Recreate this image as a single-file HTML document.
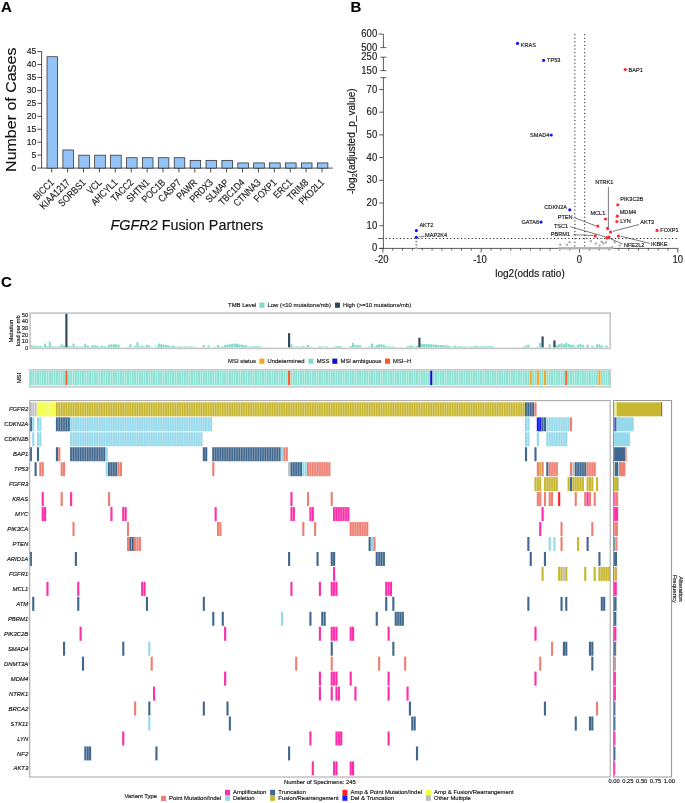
<!DOCTYPE html>
<html><head><meta charset="utf-8"><title>Figure</title>
<style>html,body{margin:0;padding:0;background:#fff}body{width:685px;height:803px;overflow:hidden;font-family:"Liberation Sans",sans-serif}svg{display:block;will-change:transform}text{stroke:#222;stroke-width:0.16px}</style></head>
<body>
<svg width="685" height="803" viewBox="0 0 685 803" font-family="Liberation Sans, sans-serif">
<rect width="685" height="803" fill="#fff"/>
<text x="1" y="12.3" font-size="15" font-weight="bold" fill="#000">A</text>
<text x="350.5" y="12.3" font-size="15" font-weight="bold" fill="#000">B</text>
<text x="1" y="287.3" font-size="15" font-weight="bold" fill="#000">C</text>
<g stroke="#222" stroke-width="0.8" fill="none">
<path d="M41.6 51.5V168.1H332.8"/>
<path d="M37.4 168.10H41.6"/>
<path d="M37.4 155.15H41.6"/>
<path d="M37.4 142.20H41.6"/>
<path d="M37.4 129.25H41.6"/>
<path d="M37.4 116.30H41.6"/>
<path d="M37.4 103.35H41.6"/>
<path d="M37.4 90.40H41.6"/>
<path d="M37.4 77.45H41.6"/>
<path d="M37.4 64.50H41.6"/>
<path d="M37.4 51.55H41.6"/>
<path d="M51.70 168.1v4.3"/>
<path d="M67.60 168.1v4.3"/>
<path d="M83.50 168.1v4.3"/>
<path d="M99.40 168.1v4.3"/>
<path d="M115.30 168.1v4.3"/>
<path d="M131.20 168.1v4.3"/>
<path d="M147.10 168.1v4.3"/>
<path d="M163.00 168.1v4.3"/>
<path d="M178.90 168.1v4.3"/>
<path d="M194.80 168.1v4.3"/>
<path d="M210.70 168.1v4.3"/>
<path d="M226.60 168.1v4.3"/>
<path d="M242.50 168.1v4.3"/>
<path d="M258.40 168.1v4.3"/>
<path d="M274.30 168.1v4.3"/>
<path d="M290.20 168.1v4.3"/>
<path d="M306.10 168.1v4.3"/>
<path d="M322.00 168.1v4.3"/>
</g>
<g stroke="#222" stroke-width="0.7" fill="#94C3F8">
<rect x="47.00" y="56.73" width="10.60" height="111.37"/>
<rect x="62.90" y="149.97" width="10.60" height="18.13"/>
<rect x="78.80" y="155.15" width="10.60" height="12.95"/>
<rect x="94.70" y="155.15" width="10.60" height="12.95"/>
<rect x="110.60" y="155.15" width="10.60" height="12.95"/>
<rect x="126.50" y="157.74" width="10.60" height="10.36"/>
<rect x="142.40" y="157.74" width="10.60" height="10.36"/>
<rect x="158.30" y="157.74" width="10.60" height="10.36"/>
<rect x="174.20" y="157.74" width="10.60" height="10.36"/>
<rect x="190.10" y="160.33" width="10.60" height="7.77"/>
<rect x="206.00" y="160.33" width="10.60" height="7.77"/>
<rect x="221.90" y="160.33" width="10.60" height="7.77"/>
<rect x="237.80" y="162.92" width="10.60" height="5.18"/>
<rect x="253.70" y="162.92" width="10.60" height="5.18"/>
<rect x="269.60" y="162.92" width="10.60" height="5.18"/>
<rect x="285.50" y="162.92" width="10.60" height="5.18"/>
<rect x="301.40" y="162.92" width="10.60" height="5.18"/>
<rect x="317.30" y="162.92" width="10.60" height="5.18"/>
</g>
<g font-size="9.8" fill="#222" text-anchor="end">
<text transform="translate(36.4,170.90) scale(0.88,1)">0</text>
<text transform="translate(36.4,157.95) scale(0.88,1)">5</text>
<text transform="translate(36.4,145.00) scale(0.88,1)">10</text>
<text transform="translate(36.4,132.05) scale(0.88,1)">15</text>
<text transform="translate(36.4,119.10) scale(0.88,1)">20</text>
<text transform="translate(36.4,106.15) scale(0.88,1)">25</text>
<text transform="translate(36.4,93.20) scale(0.88,1)">30</text>
<text transform="translate(36.4,80.25) scale(0.88,1)">35</text>
<text transform="translate(36.4,67.30) scale(0.88,1)">40</text>
<text transform="translate(36.4,54.35) scale(0.88,1)">45</text>
</g>
<g font-size="10" fill="#222" text-anchor="end">
<text transform="translate(54.60,183.20) rotate(-45) scale(0.84,1)">BICC1</text>
<text transform="translate(70.50,183.20) rotate(-45) scale(0.84,1)">KIAA1217</text>
<text transform="translate(86.40,183.20) rotate(-45) scale(0.84,1)">SORBS1</text>
<text transform="translate(102.30,183.20) rotate(-45) scale(0.84,1)">VCL</text>
<text transform="translate(118.20,183.20) rotate(-45) scale(0.84,1)">AHCYL1</text>
<text transform="translate(134.10,183.20) rotate(-45) scale(0.84,1)">TACC2</text>
<text transform="translate(150.00,183.20) rotate(-45) scale(0.84,1)">SHTN1</text>
<text transform="translate(165.90,183.20) rotate(-45) scale(0.84,1)">POC1B</text>
<text transform="translate(181.80,183.20) rotate(-45) scale(0.84,1)">CASP7</text>
<text transform="translate(197.70,183.20) rotate(-45) scale(0.84,1)">PAWR</text>
<text transform="translate(213.60,183.20) rotate(-45) scale(0.84,1)">PRDX3</text>
<text transform="translate(229.50,183.20) rotate(-45) scale(0.84,1)">SLMAP</text>
<text transform="translate(245.40,183.20) rotate(-45) scale(0.84,1)">TBC1D4</text>
<text transform="translate(261.30,183.20) rotate(-45) scale(0.84,1)">CTNNA3</text>
<text transform="translate(277.20,183.20) rotate(-45) scale(0.84,1)">FOXP1</text>
<text transform="translate(293.10,183.20) rotate(-45) scale(0.84,1)">ERC1</text>
<text transform="translate(309.00,183.20) rotate(-45) scale(0.84,1)">TRIM8</text>
<text transform="translate(324.90,183.20) rotate(-45) scale(0.84,1)">PKD2L1</text>
</g>
<text x="110.5" y="230.3" font-size="15.3" fill="#111" textLength="152.7" lengthAdjust="spacingAndGlyphs"><tspan font-style="italic">FGFR2</tspan> Fusion Partners</text>
<text transform="translate(16.3,171.9) rotate(-90)" font-size="15.5" fill="#111" textLength="124.4" lengthAdjust="spacingAndGlyphs">Number of Cases</text>
<g stroke="#333" stroke-width="0.8" fill="none">
<path d="M378.4 34.1H383.4V47.6M380.4 47.6H386.4"/>
<path d="M380.4 57.2H386.4M383.4 57.2V70.6M380.4 70.6H386.4"/>
<path d="M380.4 77.7H386.4M383.4 77.7V248.4"/>
<path d="M379.2 248.40H383.4"/>
<path d="M379.2 225.70H383.4"/>
<path d="M379.2 203.00H383.4"/>
<path d="M379.2 180.30H383.4"/>
<path d="M379.2 157.60H383.4"/>
<path d="M379.2 134.90H383.4"/>
<path d="M379.2 112.20H383.4"/>
<path d="M379.2 89.50H383.4"/>
<path d="M379.2 248.4H678.2"/>
<path d="M382.90 248.4v4.2"/>
<path d="M392.73 248.4v2.1"/>
<path d="M402.56 248.4v2.1"/>
<path d="M412.39 248.4v2.1"/>
<path d="M422.22 248.4v2.1"/>
<path d="M432.05 248.4v2.1"/>
<path d="M441.88 248.4v2.1"/>
<path d="M451.71 248.4v2.1"/>
<path d="M461.54 248.4v2.1"/>
<path d="M471.37 248.4v2.1"/>
<path d="M481.20 248.4v4.2"/>
<path d="M491.03 248.4v2.1"/>
<path d="M500.86 248.4v2.1"/>
<path d="M510.69 248.4v2.1"/>
<path d="M520.52 248.4v2.1"/>
<path d="M530.35 248.4v2.1"/>
<path d="M540.18 248.4v2.1"/>
<path d="M550.01 248.4v2.1"/>
<path d="M559.84 248.4v2.1"/>
<path d="M569.67 248.4v2.1"/>
<path d="M579.50 248.4v4.2"/>
<path d="M589.33 248.4v2.1"/>
<path d="M599.16 248.4v2.1"/>
<path d="M608.99 248.4v2.1"/>
<path d="M618.82 248.4v2.1"/>
<path d="M628.65 248.4v2.1"/>
<path d="M638.48 248.4v2.1"/>
<path d="M648.31 248.4v2.1"/>
<path d="M658.14 248.4v2.1"/>
<path d="M667.97 248.4v2.1"/>
<path d="M677.80 248.4v4.2"/>
</g>
<g stroke="#222" stroke-width="1.0" stroke-dasharray="1.15 2.43" fill="none">
<path d="M574.9 34.1V248.4"/>
<path d="M584.7 34.1V248.4"/>
<path d="M385.7 238.5H678.2"/>
</g>
<path d="M378 238.5H383.4" stroke="#333" stroke-width="0.8"/>
<g font-size="10" fill="#222" text-anchor="end">
<text transform="translate(377.2,37.1) scale(0.95,1)">600</text>
<text transform="translate(377.2,50.6) scale(0.95,1)">500</text>
<text transform="translate(377.2,60.2) scale(0.95,1)">250</text>
<text transform="translate(377.2,73.6) scale(0.95,1)">150</text>
<text transform="translate(377.2,251.40) scale(0.95,1)">0</text>
<text transform="translate(377.2,228.70) scale(0.95,1)">10</text>
<text transform="translate(377.2,206.00) scale(0.95,1)">20</text>
<text transform="translate(377.2,183.30) scale(0.95,1)">30</text>
<text transform="translate(377.2,160.60) scale(0.95,1)">40</text>
<text transform="translate(377.2,137.90) scale(0.95,1)">50</text>
<text transform="translate(377.2,115.20) scale(0.95,1)">60</text>
<text transform="translate(377.2,92.50) scale(0.95,1)">70</text>
</g>
<g font-size="10" fill="#222" text-anchor="middle">
<text transform="translate(381.7,262.6) scale(0.95,1)">-20</text>
<text transform="translate(480.0,262.6) scale(0.95,1)">-10</text>
<text transform="translate(579.5,262.6) scale(0.95,1)">0</text>
<text transform="translate(677.8,262.6) scale(0.95,1)">10</text>
</g>
<text x="530" y="276.6" font-size="10" fill="#111" stroke="#111" stroke-width="0.2" text-anchor="middle">log2(odds ratio)</text>
<text transform="translate(354.8,194) rotate(-90)" font-size="10" fill="#111" stroke="#111" stroke-width="0.2">-log<tspan font-size="7" dy="2">2</tspan><tspan dy="-2">(adjusted_p_value)</tspan></text>
<g fill="#B0B0B0">
<circle cx="560.2" cy="244.7" r="1.2"/>
<circle cx="567.0" cy="244.7" r="1.2"/>
<circle cx="569.5" cy="242.2" r="1.2"/>
<circle cx="590.8" cy="241.0" r="1.2"/>
<circle cx="595.9" cy="243.5" r="1.2"/>
<circle cx="599.6" cy="245.5" r="1.2"/>
<circle cx="602.1" cy="242.2" r="1.2"/>
<circle cx="605.9" cy="242.2" r="1.2"/>
<circle cx="614.7" cy="242.2" r="1.2"/>
<circle cx="619.7" cy="245.5" r="1.2"/>
<circle cx="612.2" cy="247.2" r="1.2"/>
<circle cx="416.4" cy="241.6" r="1.2"/>
<circle cx="416.4" cy="245.0" r="1.2"/>
<circle cx="416.4" cy="248.3" r="1.2"/>
<circle cx="601.5" cy="241.6" r="1.2"/>
<circle cx="603.5" cy="243.6" r="1.2"/>
<circle cx="559.5" cy="248.2" r="1.2"/>
<circle cx="561.2" cy="248.2" r="1.2"/>
<circle cx="562.9" cy="248.2" r="1.2"/>
<circle cx="564.6" cy="248.2" r="1.2"/>
<circle cx="566.3" cy="248.2" r="1.2"/>
<circle cx="568.0" cy="248.2" r="1.2"/>
<circle cx="569.7" cy="248.2" r="1.2"/>
<circle cx="571.4" cy="248.2" r="1.2"/>
<circle cx="573.1" cy="248.2" r="1.2"/>
<circle cx="574.8" cy="248.2" r="1.2"/>
<circle cx="576.5" cy="248.2" r="1.2"/>
<circle cx="578.2" cy="248.2" r="1.2"/>
<circle cx="579.9" cy="248.2" r="1.2"/>
<circle cx="581.6" cy="248.2" r="1.2"/>
<circle cx="583.3" cy="248.2" r="1.2"/>
<circle cx="585.0" cy="248.2" r="1.2"/>
<circle cx="586.7" cy="248.2" r="1.2"/>
<circle cx="588.4" cy="248.2" r="1.2"/>
<circle cx="590.1" cy="248.2" r="1.2"/>
<circle cx="591.8" cy="248.2" r="1.2"/>
<circle cx="593.5" cy="248.2" r="1.2"/>
<circle cx="595.2" cy="248.2" r="1.2"/>
<circle cx="596.9" cy="248.2" r="1.2"/>
<circle cx="598.6" cy="248.2" r="1.2"/>
<circle cx="600.3" cy="248.2" r="1.2"/>
<circle cx="602.0" cy="248.2" r="1.2"/>
<circle cx="603.7" cy="248.2" r="1.2"/>
<circle cx="605.4" cy="248.2" r="1.2"/>
<circle cx="607.1" cy="248.2" r="1.2"/>
<circle cx="608.8" cy="248.2" r="1.2"/>
<circle cx="610.5" cy="248.2" r="1.2"/>
<circle cx="612.2" cy="248.2" r="1.2"/>
</g>
<g stroke="#222" stroke-width="0.6" fill="none">
<path d="M608.4 186.9V227.1"/>
<path d="M574.1 217.5L595.9 225.9"/>
<path d="M570.1 226.7L607.8 237.5L622.9 244.2"/>
<path d="M573.3 234.7L593.4 235.5"/>
<path d="M638.9 224.5L612.6 231.4"/>
<path d="M649.8 243.4L621 236.2"/>
<path d="M418.8 237L424.4 236.5"/>
</g>
<g fill="#1414FF">
<circle cx="517.5" cy="43.4" r="1.6"/>
<circle cx="543.6" cy="60.3" r="1.6"/>
<circle cx="551.2" cy="135.0" r="1.6"/>
<circle cx="569.8" cy="209.8" r="1.6"/>
<circle cx="541.0" cy="222.1" r="1.6"/>
<circle cx="416.4" cy="230.6" r="1.6"/>
<circle cx="416.4" cy="237.3" r="1.6"/>
</g><g fill="#FF2B2B">
<circle cx="625.2" cy="69.5" r="1.6"/>
<circle cx="617.8" cy="204.8" r="1.6"/>
<circle cx="617.3" cy="216.2" r="1.6"/>
<circle cx="605.5" cy="219.0" r="1.6"/>
<circle cx="616.9" cy="221.5" r="1.6"/>
<circle cx="597.8" cy="226.1" r="1.6"/>
<circle cx="607.6" cy="228.4" r="1.6"/>
<circle cx="610.5" cy="232.1" r="1.6"/>
<circle cx="657.0" cy="230.4" r="1.6"/>
<circle cx="595.3" cy="235.9" r="1.6"/>
<circle cx="618.5" cy="236.0" r="1.6"/>
<circle cx="606.9" cy="237.9" r="1.6"/>
<circle cx="608.9" cy="237.1" r="1.6"/>
</g>
<g font-size="5.6" fill="#222">
<text x="520.7" y="46.7" text-anchor="start">KRAS</text>
<text x="547.0" y="62.3" text-anchor="start">TP53</text>
<text x="628.5" y="71.5" text-anchor="start">BAP1</text>
<text x="549.3" y="137.0" text-anchor="end">SMAD4</text>
<text x="567.0" y="209.0" text-anchor="end">CDKN2A</text>
<text x="539.0" y="224.1" text-anchor="end">GATA6</text>
<text x="419.4" y="226.6" text-anchor="start">AKT2</text>
<text x="425.1" y="237.1" text-anchor="start">MAP2K4</text>
<text x="604.3" y="183.9" text-anchor="middle">NTRK1</text>
<text x="620.3" y="201.0" text-anchor="start">PIK3C2B</text>
<text x="619.7" y="214.3" text-anchor="start">MDM4</text>
<text x="605.3" y="215.3" text-anchor="end">MCL1</text>
<text x="620.3" y="223.4" text-anchor="start">LYN</text>
<text x="572.6" y="218.7" text-anchor="end">PTEN</text>
<text x="640.2" y="224.4" text-anchor="start">AKT3</text>
<text x="568.2" y="227.5" text-anchor="end">TSC1</text>
<text x="660.3" y="232.2" text-anchor="start">FOXP1</text>
<text x="570.1" y="236.3" text-anchor="end">PBRM1</text>
<text x="651.1" y="245.7" text-anchor="start">IKBKE</text>
<text x="623.9" y="247.0" text-anchor="start">NFE2L2</text>
</g>
<g fill="#7FDCCB">
<rect x="29.85" y="344.94" width="2.07" height="2.56"/>
<rect x="32.22" y="345.72" width="2.07" height="1.78"/>
<rect x="34.59" y="345.59" width="2.07" height="1.91"/>
<rect x="36.96" y="346.31" width="2.07" height="1.19"/>
<rect x="39.33" y="345.72" width="2.07" height="1.78"/>
<rect x="41.70" y="346.77" width="2.07" height="0.73"/>
<rect x="44.06" y="343.63" width="2.07" height="3.87"/>
<rect x="46.43" y="346.25" width="2.07" height="1.25"/>
<rect x="48.80" y="341.67" width="2.07" height="5.83"/>
<rect x="51.17" y="346.31" width="2.07" height="1.19"/>
<rect x="53.54" y="346.57" width="2.07" height="0.93"/>
<rect x="55.91" y="346.77" width="2.07" height="0.73"/>
<rect x="58.28" y="346.25" width="2.07" height="1.25"/>
<rect x="60.65" y="344.28" width="2.07" height="3.22"/>
<rect x="63.02" y="345.59" width="2.07" height="1.91"/>
<rect x="67.75" y="346.25" width="2.07" height="1.25"/>
<rect x="70.12" y="346.38" width="2.07" height="1.12"/>
<rect x="72.49" y="343.63" width="2.07" height="3.87"/>
<rect x="74.86" y="346.57" width="2.07" height="0.93"/>
<rect x="77.23" y="346.64" width="2.07" height="0.86"/>
<rect x="79.60" y="346.77" width="2.07" height="0.73"/>
<rect x="81.97" y="346.70" width="2.07" height="0.80"/>
<rect x="84.34" y="343.63" width="2.07" height="3.87"/>
<rect x="86.71" y="345.59" width="2.07" height="1.91"/>
<rect x="89.08" y="346.77" width="2.07" height="0.73"/>
<rect x="91.44" y="344.94" width="2.07" height="2.56"/>
<rect x="93.81" y="345.26" width="2.07" height="2.23"/>
<rect x="96.18" y="345.59" width="2.07" height="1.91"/>
<rect x="98.55" y="346.64" width="2.07" height="0.86"/>
<rect x="100.92" y="345.72" width="2.07" height="1.78"/>
<rect x="103.29" y="346.38" width="2.07" height="1.12"/>
<rect x="105.66" y="346.64" width="2.07" height="0.86"/>
<rect x="108.03" y="344.61" width="2.07" height="2.89"/>
<rect x="110.40" y="344.28" width="2.07" height="3.22"/>
<rect x="112.77" y="344.28" width="2.07" height="3.22"/>
<rect x="115.13" y="344.28" width="2.07" height="3.22"/>
<rect x="117.50" y="344.61" width="2.07" height="2.89"/>
<rect x="126.98" y="346.77" width="2.07" height="0.73"/>
<rect x="129.35" y="344.28" width="2.07" height="3.22"/>
<rect x="134.09" y="346.12" width="2.07" height="1.38"/>
<rect x="136.46" y="342.32" width="2.07" height="5.18"/>
<rect x="138.82" y="346.51" width="2.07" height="0.99"/>
<rect x="141.19" y="345.59" width="2.07" height="1.91"/>
<rect x="143.56" y="346.64" width="2.07" height="0.86"/>
<rect x="145.93" y="344.94" width="2.07" height="2.56"/>
<rect x="148.30" y="345.59" width="2.07" height="1.91"/>
<rect x="155.41" y="346.51" width="2.07" height="0.99"/>
<rect x="157.78" y="343.63" width="2.07" height="3.87"/>
<rect x="160.15" y="344.28" width="2.07" height="3.22"/>
<rect x="162.51" y="344.61" width="2.07" height="2.89"/>
<rect x="164.88" y="344.94" width="2.07" height="2.56"/>
<rect x="167.25" y="345.26" width="2.07" height="2.23"/>
<rect x="169.62" y="346.12" width="2.07" height="1.38"/>
<rect x="171.99" y="345.72" width="2.07" height="1.78"/>
<rect x="174.36" y="346.51" width="2.07" height="0.99"/>
<rect x="176.73" y="346.64" width="2.07" height="0.86"/>
<rect x="179.10" y="346.38" width="2.07" height="1.12"/>
<rect x="181.47" y="346.77" width="2.07" height="0.73"/>
<rect x="183.84" y="346.38" width="2.07" height="1.12"/>
<rect x="186.20" y="346.70" width="2.07" height="0.80"/>
<rect x="188.57" y="346.38" width="2.07" height="1.12"/>
<rect x="190.94" y="346.51" width="2.07" height="0.99"/>
<rect x="193.31" y="346.70" width="2.07" height="0.80"/>
<rect x="202.79" y="344.94" width="2.07" height="2.56"/>
<rect x="207.53" y="345.59" width="2.07" height="1.91"/>
<rect x="214.63" y="346.70" width="2.07" height="0.80"/>
<rect x="217.00" y="344.94" width="2.07" height="2.56"/>
<rect x="219.37" y="346.70" width="2.07" height="0.80"/>
<rect x="221.74" y="346.38" width="2.07" height="1.12"/>
<rect x="224.11" y="344.94" width="2.07" height="2.56"/>
<rect x="226.48" y="344.61" width="2.07" height="2.89"/>
<rect x="228.85" y="344.28" width="2.07" height="3.22"/>
<rect x="231.22" y="343.63" width="2.07" height="3.87"/>
<rect x="233.58" y="343.63" width="2.07" height="3.87"/>
<rect x="235.95" y="343.63" width="2.07" height="3.87"/>
<rect x="238.32" y="344.28" width="2.07" height="3.22"/>
<rect x="240.69" y="344.61" width="2.07" height="2.89"/>
<rect x="243.06" y="345.26" width="2.07" height="2.23"/>
<rect x="245.43" y="345.59" width="2.07" height="1.91"/>
<rect x="247.80" y="346.70" width="2.07" height="0.80"/>
<rect x="250.17" y="346.38" width="2.07" height="1.12"/>
<rect x="252.54" y="346.25" width="2.07" height="1.25"/>
<rect x="254.91" y="346.12" width="2.07" height="1.38"/>
<rect x="257.27" y="346.38" width="2.07" height="1.12"/>
<rect x="259.64" y="346.64" width="2.07" height="0.86"/>
<rect x="290.44" y="344.28" width="2.07" height="3.22"/>
<rect x="292.81" y="346.70" width="2.07" height="0.80"/>
<rect x="295.18" y="346.38" width="2.07" height="1.12"/>
<rect x="297.55" y="346.70" width="2.07" height="0.80"/>
<rect x="299.92" y="346.70" width="2.07" height="0.80"/>
<rect x="302.28" y="346.12" width="2.07" height="1.38"/>
<rect x="304.65" y="346.64" width="2.07" height="0.86"/>
<rect x="307.02" y="344.94" width="2.07" height="2.56"/>
<rect x="309.39" y="346.77" width="2.07" height="0.73"/>
<rect x="318.87" y="346.25" width="2.07" height="1.25"/>
<rect x="321.24" y="346.70" width="2.07" height="0.80"/>
<rect x="323.61" y="346.77" width="2.07" height="0.73"/>
<rect x="325.97" y="346.57" width="2.07" height="0.93"/>
<rect x="333.08" y="346.64" width="2.07" height="0.86"/>
<rect x="335.45" y="346.25" width="2.07" height="1.25"/>
<rect x="337.82" y="346.12" width="2.07" height="1.38"/>
<rect x="340.19" y="346.31" width="2.07" height="1.19"/>
<rect x="349.67" y="345.92" width="2.07" height="1.58"/>
<rect x="352.03" y="342.98" width="2.07" height="4.52"/>
<rect x="354.40" y="344.94" width="2.07" height="2.56"/>
<rect x="356.77" y="345.26" width="2.07" height="2.23"/>
<rect x="359.14" y="345.26" width="2.07" height="2.23"/>
<rect x="368.62" y="346.57" width="2.07" height="0.93"/>
<rect x="370.99" y="343.63" width="2.07" height="3.87"/>
<rect x="373.36" y="346.64" width="2.07" height="0.86"/>
<rect x="375.72" y="344.94" width="2.07" height="2.56"/>
<rect x="378.09" y="344.28" width="2.07" height="3.22"/>
<rect x="380.46" y="344.28" width="2.07" height="3.22"/>
<rect x="382.83" y="344.61" width="2.07" height="2.89"/>
<rect x="385.20" y="346.31" width="2.07" height="1.19"/>
<rect x="387.57" y="346.25" width="2.07" height="1.25"/>
<rect x="389.94" y="346.77" width="2.07" height="0.73"/>
<rect x="392.31" y="346.31" width="2.07" height="1.19"/>
<rect x="406.52" y="346.25" width="2.07" height="1.25"/>
<rect x="408.89" y="345.59" width="2.07" height="1.91"/>
<rect x="411.26" y="345.59" width="2.07" height="1.91"/>
<rect x="413.63" y="346.77" width="2.07" height="0.73"/>
<rect x="416.00" y="346.12" width="2.07" height="1.38"/>
<rect x="420.74" y="343.63" width="2.07" height="3.87"/>
<rect x="423.10" y="343.96" width="2.07" height="3.54"/>
<rect x="425.47" y="343.96" width="2.07" height="3.54"/>
<rect x="427.84" y="344.28" width="2.07" height="3.22"/>
<rect x="430.21" y="344.28" width="2.07" height="3.22"/>
<rect x="432.58" y="344.61" width="2.07" height="2.89"/>
<rect x="434.95" y="344.61" width="2.07" height="2.89"/>
<rect x="437.32" y="344.94" width="2.07" height="2.56"/>
<rect x="439.69" y="344.94" width="2.07" height="2.56"/>
<rect x="442.06" y="345.26" width="2.07" height="2.23"/>
<rect x="444.43" y="345.26" width="2.07" height="2.23"/>
<rect x="446.79" y="345.59" width="2.07" height="1.91"/>
<rect x="449.16" y="346.38" width="2.07" height="1.12"/>
<rect x="451.53" y="346.64" width="2.07" height="0.86"/>
<rect x="453.90" y="345.72" width="2.07" height="1.78"/>
<rect x="456.27" y="346.51" width="2.07" height="0.99"/>
<rect x="458.64" y="346.12" width="2.07" height="1.38"/>
<rect x="461.01" y="346.70" width="2.07" height="0.80"/>
<rect x="463.38" y="346.51" width="2.07" height="0.99"/>
<rect x="465.75" y="346.70" width="2.07" height="0.80"/>
<rect x="468.12" y="346.77" width="2.07" height="0.73"/>
<rect x="470.48" y="346.31" width="2.07" height="1.19"/>
<rect x="472.85" y="346.51" width="2.07" height="0.99"/>
<rect x="475.22" y="345.72" width="2.07" height="1.78"/>
<rect x="477.59" y="346.25" width="2.07" height="1.25"/>
<rect x="479.96" y="346.38" width="2.07" height="1.12"/>
<rect x="482.33" y="346.25" width="2.07" height="1.25"/>
<rect x="484.70" y="346.12" width="2.07" height="1.38"/>
<rect x="487.07" y="346.31" width="2.07" height="1.19"/>
<rect x="489.44" y="345.72" width="2.07" height="1.78"/>
<rect x="491.81" y="346.57" width="2.07" height="0.93"/>
<rect x="522.60" y="346.64" width="2.07" height="0.86"/>
<rect x="524.97" y="345.59" width="2.07" height="1.91"/>
<rect x="527.34" y="344.61" width="2.07" height="2.89"/>
<rect x="536.82" y="346.77" width="2.07" height="0.73"/>
<rect x="539.19" y="342.98" width="2.07" height="4.52"/>
<rect x="548.66" y="344.28" width="2.07" height="3.22"/>
<rect x="555.77" y="344.94" width="2.07" height="2.56"/>
<rect x="558.14" y="344.28" width="2.07" height="3.22"/>
<rect x="560.51" y="343.30" width="2.07" height="4.20"/>
<rect x="562.88" y="344.28" width="2.07" height="3.22"/>
<rect x="565.24" y="342.65" width="2.07" height="4.85"/>
<rect x="567.61" y="343.96" width="2.07" height="3.54"/>
<rect x="569.98" y="344.94" width="2.07" height="2.56"/>
<rect x="572.35" y="344.61" width="2.07" height="2.89"/>
<rect x="574.72" y="346.51" width="2.07" height="0.99"/>
<rect x="577.09" y="344.61" width="2.07" height="2.89"/>
<rect x="579.46" y="343.63" width="2.07" height="3.87"/>
<rect x="581.83" y="344.94" width="2.07" height="2.56"/>
<rect x="586.57" y="344.61" width="2.07" height="2.89"/>
<rect x="591.30" y="345.59" width="2.07" height="1.91"/>
<rect x="596.04" y="344.28" width="2.07" height="3.22"/>
<rect x="598.41" y="344.28" width="2.07" height="3.22"/>
<rect x="600.78" y="345.59" width="2.07" height="1.91"/>
<rect x="605.52" y="345.59" width="2.07" height="1.91"/>
</g><g fill="#33475E">
<rect x="65.33" y="312.89" width="2.17" height="34.61"/>
<rect x="288.02" y="333.17" width="2.17" height="14.33"/>
<rect x="418.32" y="337.74" width="2.17" height="9.76"/>
<rect x="541.50" y="336.44" width="2.17" height="11.06"/>
<rect x="553.35" y="340.36" width="2.17" height="7.14"/>
</g>
<rect x="30.1" y="313.1" width="580.1" height="35.3" fill="none" stroke="#C6C6C6" stroke-width="1.6"/>
<g font-size="5.8" fill="#222" text-anchor="end">
<text x="28.3" y="349.70">0</text>
<text x="28.3" y="343.10">10</text>
<text x="28.3" y="336.50">20</text>
<text x="28.3" y="329.90">30</text>
<text x="28.3" y="323.30">40</text>
<text x="28.3" y="316.70">50</text>
</g>
<text transform="translate(13.2,331.1) rotate(-90)" font-size="5.9" fill="#111" text-anchor="middle">Mutation</text>
<text transform="translate(19.9,330.8) rotate(-90)" font-size="5.9" fill="#111" text-anchor="middle">load per mb</text>
<g font-size="5.9" fill="#111">
<text x="228.1" y="307.0">TMB Level</text>
<rect x="259.4" y="302.6" width="5" height="5.2" fill="#7FDCCB"/>
<text x="267.5" y="307.0">Low (&lt;10 mutations/mb)</text>
<rect x="335" y="302.6" width="5" height="5.2" fill="#33475E"/>
<text x="343" y="307.0">High (&gt;=10 mutations/mb)</text>
<text x="228.1" y="363.1">MSI status</text>
<rect x="259.4" y="358.6" width="5" height="5.2" fill="#F5A623"/>
<text x="267.5" y="363.1">Undetermined</text>
<rect x="308.4" y="358.6" width="5" height="5.2" fill="#7FDCCB"/>
<text x="316.7" y="363.1">MSS</text>
<rect x="332.3" y="358.6" width="5" height="5.2" fill="#1010CC"/>
<text x="340.5" y="363.1">MSI ambiguous</text>
<rect x="385" y="358.6" width="5" height="5.2" fill="#FF5722"/>
<text x="393" y="363.1">MSI&#8722;H</text>
</g>
<rect x="30.0" y="369.9" width="580.3" height="16.9" fill="#fff" stroke="#C9C9C9" stroke-width="1.6"/>
<g fill="#8DE2D3">
<rect x="29.85" y="370.7" width="2.07" height="14.5"/>
<rect x="32.22" y="370.7" width="2.07" height="14.5"/>
<rect x="34.59" y="370.7" width="2.07" height="14.5"/>
<rect x="36.96" y="370.7" width="2.07" height="14.5"/>
<rect x="39.33" y="370.7" width="2.07" height="14.5"/>
<rect x="41.70" y="370.7" width="2.07" height="14.5"/>
<rect x="44.06" y="370.7" width="2.07" height="14.5"/>
<rect x="46.43" y="370.7" width="2.07" height="14.5"/>
<rect x="48.80" y="370.7" width="2.07" height="14.5"/>
<rect x="51.17" y="370.7" width="2.07" height="14.5"/>
<rect x="53.54" y="370.7" width="2.07" height="14.5"/>
<rect x="55.91" y="370.7" width="2.07" height="14.5"/>
<rect x="58.28" y="370.7" width="2.07" height="14.5"/>
<rect x="60.65" y="370.7" width="2.07" height="14.5"/>
<rect x="63.02" y="370.7" width="2.07" height="14.5"/>
<rect x="67.75" y="370.7" width="2.07" height="14.5"/>
<rect x="70.12" y="370.7" width="2.07" height="14.5"/>
<rect x="72.49" y="370.7" width="2.07" height="14.5"/>
<rect x="74.86" y="370.7" width="2.07" height="14.5"/>
<rect x="77.23" y="370.7" width="2.07" height="14.5"/>
<rect x="79.60" y="370.7" width="2.07" height="14.5"/>
<rect x="81.97" y="370.7" width="2.07" height="14.5"/>
<rect x="84.34" y="370.7" width="2.07" height="14.5"/>
<rect x="86.71" y="370.7" width="2.07" height="14.5"/>
<rect x="89.08" y="370.7" width="2.07" height="14.5"/>
<rect x="91.44" y="370.7" width="2.07" height="14.5"/>
<rect x="93.81" y="370.7" width="2.07" height="14.5"/>
<rect x="96.18" y="370.7" width="2.07" height="14.5"/>
<rect x="98.55" y="370.7" width="2.07" height="14.5"/>
<rect x="100.92" y="370.7" width="2.07" height="14.5"/>
<rect x="103.29" y="370.7" width="2.07" height="14.5"/>
<rect x="105.66" y="370.7" width="2.07" height="14.5"/>
<rect x="108.03" y="370.7" width="2.07" height="14.5"/>
<rect x="110.40" y="370.7" width="2.07" height="14.5"/>
<rect x="112.77" y="370.7" width="2.07" height="14.5"/>
<rect x="115.13" y="370.7" width="2.07" height="14.5"/>
<rect x="117.50" y="370.7" width="2.07" height="14.5"/>
<rect x="119.87" y="370.7" width="2.07" height="14.5"/>
<rect x="122.24" y="370.7" width="2.07" height="14.5"/>
<rect x="124.61" y="370.7" width="2.07" height="14.5"/>
<rect x="126.98" y="370.7" width="2.07" height="14.5"/>
<rect x="129.35" y="370.7" width="2.07" height="14.5"/>
<rect x="131.72" y="370.7" width="2.07" height="14.5"/>
<rect x="134.09" y="370.7" width="2.07" height="14.5"/>
<rect x="136.46" y="370.7" width="2.07" height="14.5"/>
<rect x="138.82" y="370.7" width="2.07" height="14.5"/>
<rect x="141.19" y="370.7" width="2.07" height="14.5"/>
<rect x="143.56" y="370.7" width="2.07" height="14.5"/>
<rect x="145.93" y="370.7" width="2.07" height="14.5"/>
<rect x="148.30" y="370.7" width="2.07" height="14.5"/>
<rect x="150.67" y="370.7" width="2.07" height="14.5"/>
<rect x="153.04" y="370.7" width="2.07" height="14.5"/>
<rect x="155.41" y="370.7" width="2.07" height="14.5"/>
<rect x="157.78" y="370.7" width="2.07" height="14.5"/>
<rect x="160.15" y="370.7" width="2.07" height="14.5"/>
<rect x="162.51" y="370.7" width="2.07" height="14.5"/>
<rect x="164.88" y="370.7" width="2.07" height="14.5"/>
<rect x="167.25" y="370.7" width="2.07" height="14.5"/>
<rect x="169.62" y="370.7" width="2.07" height="14.5"/>
<rect x="171.99" y="370.7" width="2.07" height="14.5"/>
<rect x="174.36" y="370.7" width="2.07" height="14.5"/>
<rect x="176.73" y="370.7" width="2.07" height="14.5"/>
<rect x="179.10" y="370.7" width="2.07" height="14.5"/>
<rect x="181.47" y="370.7" width="2.07" height="14.5"/>
<rect x="183.84" y="370.7" width="2.07" height="14.5"/>
<rect x="186.20" y="370.7" width="2.07" height="14.5"/>
<rect x="188.57" y="370.7" width="2.07" height="14.5"/>
<rect x="190.94" y="370.7" width="2.07" height="14.5"/>
<rect x="193.31" y="370.7" width="2.07" height="14.5"/>
<rect x="195.68" y="370.7" width="2.07" height="14.5"/>
<rect x="198.05" y="370.7" width="2.07" height="14.5"/>
<rect x="200.42" y="370.7" width="2.07" height="14.5"/>
<rect x="202.79" y="370.7" width="2.07" height="14.5"/>
<rect x="205.16" y="370.7" width="2.07" height="14.5"/>
<rect x="207.53" y="370.7" width="2.07" height="14.5"/>
<rect x="209.89" y="370.7" width="2.07" height="14.5"/>
<rect x="212.26" y="370.7" width="2.07" height="14.5"/>
<rect x="214.63" y="370.7" width="2.07" height="14.5"/>
<rect x="217.00" y="370.7" width="2.07" height="14.5"/>
<rect x="219.37" y="370.7" width="2.07" height="14.5"/>
<rect x="221.74" y="370.7" width="2.07" height="14.5"/>
<rect x="224.11" y="370.7" width="2.07" height="14.5"/>
<rect x="226.48" y="370.7" width="2.07" height="14.5"/>
<rect x="228.85" y="370.7" width="2.07" height="14.5"/>
<rect x="231.22" y="370.7" width="2.07" height="14.5"/>
<rect x="233.58" y="370.7" width="2.07" height="14.5"/>
<rect x="235.95" y="370.7" width="2.07" height="14.5"/>
<rect x="238.32" y="370.7" width="2.07" height="14.5"/>
<rect x="240.69" y="370.7" width="2.07" height="14.5"/>
<rect x="243.06" y="370.7" width="2.07" height="14.5"/>
<rect x="245.43" y="370.7" width="2.07" height="14.5"/>
<rect x="247.80" y="370.7" width="2.07" height="14.5"/>
<rect x="250.17" y="370.7" width="2.07" height="14.5"/>
<rect x="252.54" y="370.7" width="2.07" height="14.5"/>
<rect x="254.91" y="370.7" width="2.07" height="14.5"/>
<rect x="257.27" y="370.7" width="2.07" height="14.5"/>
<rect x="259.64" y="370.7" width="2.07" height="14.5"/>
<rect x="262.01" y="370.7" width="2.07" height="14.5"/>
<rect x="264.38" y="370.7" width="2.07" height="14.5"/>
<rect x="266.75" y="370.7" width="2.07" height="14.5"/>
<rect x="269.12" y="370.7" width="2.07" height="14.5"/>
<rect x="271.49" y="370.7" width="2.07" height="14.5"/>
<rect x="273.86" y="370.7" width="2.07" height="14.5"/>
<rect x="276.23" y="370.7" width="2.07" height="14.5"/>
<rect x="278.60" y="370.7" width="2.07" height="14.5"/>
<rect x="280.96" y="370.7" width="2.07" height="14.5"/>
<rect x="283.33" y="370.7" width="2.07" height="14.5"/>
<rect x="285.70" y="370.7" width="2.07" height="14.5"/>
<rect x="290.44" y="370.7" width="2.07" height="14.5"/>
<rect x="292.81" y="370.7" width="2.07" height="14.5"/>
<rect x="295.18" y="370.7" width="2.07" height="14.5"/>
<rect x="297.55" y="370.7" width="2.07" height="14.5"/>
<rect x="299.92" y="370.7" width="2.07" height="14.5"/>
<rect x="302.28" y="370.7" width="2.07" height="14.5"/>
<rect x="304.65" y="370.7" width="2.07" height="14.5"/>
<rect x="307.02" y="370.7" width="2.07" height="14.5"/>
<rect x="309.39" y="370.7" width="2.07" height="14.5"/>
<rect x="311.76" y="370.7" width="2.07" height="14.5"/>
<rect x="314.13" y="370.7" width="2.07" height="14.5"/>
<rect x="316.50" y="370.7" width="2.07" height="14.5"/>
<rect x="318.87" y="370.7" width="2.07" height="14.5"/>
<rect x="321.24" y="370.7" width="2.07" height="14.5"/>
<rect x="323.61" y="370.7" width="2.07" height="14.5"/>
<rect x="325.97" y="370.7" width="2.07" height="14.5"/>
<rect x="328.34" y="370.7" width="2.07" height="14.5"/>
<rect x="330.71" y="370.7" width="2.07" height="14.5"/>
<rect x="333.08" y="370.7" width="2.07" height="14.5"/>
<rect x="335.45" y="370.7" width="2.07" height="14.5"/>
<rect x="337.82" y="370.7" width="2.07" height="14.5"/>
<rect x="340.19" y="370.7" width="2.07" height="14.5"/>
<rect x="342.56" y="370.7" width="2.07" height="14.5"/>
<rect x="344.93" y="370.7" width="2.07" height="14.5"/>
<rect x="347.30" y="370.7" width="2.07" height="14.5"/>
<rect x="349.67" y="370.7" width="2.07" height="14.5"/>
<rect x="352.03" y="370.7" width="2.07" height="14.5"/>
<rect x="354.40" y="370.7" width="2.07" height="14.5"/>
<rect x="356.77" y="370.7" width="2.07" height="14.5"/>
<rect x="359.14" y="370.7" width="2.07" height="14.5"/>
<rect x="361.51" y="370.7" width="2.07" height="14.5"/>
<rect x="363.88" y="370.7" width="2.07" height="14.5"/>
<rect x="366.25" y="370.7" width="2.07" height="14.5"/>
<rect x="368.62" y="370.7" width="2.07" height="14.5"/>
<rect x="370.99" y="370.7" width="2.07" height="14.5"/>
<rect x="373.36" y="370.7" width="2.07" height="14.5"/>
<rect x="375.72" y="370.7" width="2.07" height="14.5"/>
<rect x="378.09" y="370.7" width="2.07" height="14.5"/>
<rect x="380.46" y="370.7" width="2.07" height="14.5"/>
<rect x="382.83" y="370.7" width="2.07" height="14.5"/>
<rect x="385.20" y="370.7" width="2.07" height="14.5"/>
<rect x="387.57" y="370.7" width="2.07" height="14.5"/>
<rect x="389.94" y="370.7" width="2.07" height="14.5"/>
<rect x="392.31" y="370.7" width="2.07" height="14.5"/>
<rect x="394.68" y="370.7" width="2.07" height="14.5"/>
<rect x="397.05" y="370.7" width="2.07" height="14.5"/>
<rect x="399.41" y="370.7" width="2.07" height="14.5"/>
<rect x="401.78" y="370.7" width="2.07" height="14.5"/>
<rect x="404.15" y="370.7" width="2.07" height="14.5"/>
<rect x="406.52" y="370.7" width="2.07" height="14.5"/>
<rect x="408.89" y="370.7" width="2.07" height="14.5"/>
<rect x="411.26" y="370.7" width="2.07" height="14.5"/>
<rect x="413.63" y="370.7" width="2.07" height="14.5"/>
<rect x="416.00" y="370.7" width="2.07" height="14.5"/>
<rect x="418.37" y="370.7" width="2.07" height="14.5"/>
<rect x="420.74" y="370.7" width="2.07" height="14.5"/>
<rect x="423.10" y="370.7" width="2.07" height="14.5"/>
<rect x="425.47" y="370.7" width="2.07" height="14.5"/>
<rect x="427.84" y="370.7" width="2.07" height="14.5"/>
<rect x="432.58" y="370.7" width="2.07" height="14.5"/>
<rect x="434.95" y="370.7" width="2.07" height="14.5"/>
<rect x="437.32" y="370.7" width="2.07" height="14.5"/>
<rect x="439.69" y="370.7" width="2.07" height="14.5"/>
<rect x="442.06" y="370.7" width="2.07" height="14.5"/>
<rect x="444.43" y="370.7" width="2.07" height="14.5"/>
<rect x="446.79" y="370.7" width="2.07" height="14.5"/>
<rect x="449.16" y="370.7" width="2.07" height="14.5"/>
<rect x="451.53" y="370.7" width="2.07" height="14.5"/>
<rect x="453.90" y="370.7" width="2.07" height="14.5"/>
<rect x="456.27" y="370.7" width="2.07" height="14.5"/>
<rect x="458.64" y="370.7" width="2.07" height="14.5"/>
<rect x="461.01" y="370.7" width="2.07" height="14.5"/>
<rect x="463.38" y="370.7" width="2.07" height="14.5"/>
<rect x="465.75" y="370.7" width="2.07" height="14.5"/>
<rect x="468.12" y="370.7" width="2.07" height="14.5"/>
<rect x="470.48" y="370.7" width="2.07" height="14.5"/>
<rect x="472.85" y="370.7" width="2.07" height="14.5"/>
<rect x="475.22" y="370.7" width="2.07" height="14.5"/>
<rect x="477.59" y="370.7" width="2.07" height="14.5"/>
<rect x="479.96" y="370.7" width="2.07" height="14.5"/>
<rect x="482.33" y="370.7" width="2.07" height="14.5"/>
<rect x="484.70" y="370.7" width="2.07" height="14.5"/>
<rect x="487.07" y="370.7" width="2.07" height="14.5"/>
<rect x="489.44" y="370.7" width="2.07" height="14.5"/>
<rect x="491.81" y="370.7" width="2.07" height="14.5"/>
<rect x="494.17" y="370.7" width="2.07" height="14.5"/>
<rect x="496.54" y="370.7" width="2.07" height="14.5"/>
<rect x="498.91" y="370.7" width="2.07" height="14.5"/>
<rect x="501.28" y="370.7" width="2.07" height="14.5"/>
<rect x="503.65" y="370.7" width="2.07" height="14.5"/>
<rect x="506.02" y="370.7" width="2.07" height="14.5"/>
<rect x="508.39" y="370.7" width="2.07" height="14.5"/>
<rect x="510.76" y="370.7" width="2.07" height="14.5"/>
<rect x="513.13" y="370.7" width="2.07" height="14.5"/>
<rect x="515.50" y="370.7" width="2.07" height="14.5"/>
<rect x="517.86" y="370.7" width="2.07" height="14.5"/>
<rect x="520.23" y="370.7" width="2.07" height="14.5"/>
<rect x="522.60" y="370.7" width="2.07" height="14.5"/>
<rect x="524.97" y="370.7" width="2.07" height="14.5"/>
<rect x="527.34" y="370.7" width="2.07" height="14.5"/>
<rect x="532.08" y="370.7" width="2.07" height="14.5"/>
<rect x="534.45" y="370.7" width="2.07" height="14.5"/>
<rect x="539.19" y="370.7" width="2.07" height="14.5"/>
<rect x="541.55" y="370.7" width="2.07" height="14.5"/>
<rect x="546.29" y="370.7" width="2.07" height="14.5"/>
<rect x="548.66" y="370.7" width="2.07" height="14.5"/>
<rect x="551.03" y="370.7" width="2.07" height="14.5"/>
<rect x="553.40" y="370.7" width="2.07" height="14.5"/>
<rect x="555.77" y="370.7" width="2.07" height="14.5"/>
<rect x="558.14" y="370.7" width="2.07" height="14.5"/>
<rect x="560.51" y="370.7" width="2.07" height="14.5"/>
<rect x="562.88" y="370.7" width="2.07" height="14.5"/>
<rect x="567.61" y="370.7" width="2.07" height="14.5"/>
<rect x="569.98" y="370.7" width="2.07" height="14.5"/>
<rect x="572.35" y="370.7" width="2.07" height="14.5"/>
<rect x="574.72" y="370.7" width="2.07" height="14.5"/>
<rect x="577.09" y="370.7" width="2.07" height="14.5"/>
<rect x="579.46" y="370.7" width="2.07" height="14.5"/>
<rect x="581.83" y="370.7" width="2.07" height="14.5"/>
<rect x="584.20" y="370.7" width="2.07" height="14.5"/>
<rect x="586.57" y="370.7" width="2.07" height="14.5"/>
<rect x="588.93" y="370.7" width="2.07" height="14.5"/>
<rect x="591.30" y="370.7" width="2.07" height="14.5"/>
<rect x="593.67" y="370.7" width="2.07" height="14.5"/>
<rect x="596.04" y="370.7" width="2.07" height="14.5"/>
<rect x="600.78" y="370.7" width="2.07" height="14.5"/>
<rect x="603.15" y="370.7" width="2.07" height="14.5"/>
<rect x="605.52" y="370.7" width="2.07" height="14.5"/>
<rect x="607.89" y="370.7" width="2.07" height="14.5"/>
</g>
<rect x="65.39" y="370.7" width="2.07" height="14.5" fill="#FF5722"/>
<rect x="288.07" y="370.7" width="2.07" height="14.5" fill="#FF5722"/>
<rect x="565.24" y="370.7" width="2.07" height="14.5" fill="#FF5722"/>
<rect x="430.21" y="370.7" width="2.07" height="14.5" fill="#1010CC"/>
<rect x="529.71" y="370.7" width="2.07" height="14.5" fill="#F5A623"/>
<rect x="536.82" y="370.7" width="2.07" height="14.5" fill="#F5A623"/>
<rect x="543.92" y="370.7" width="2.07" height="14.5" fill="#F5A623"/>
<rect x="598.41" y="370.7" width="2.07" height="14.5" fill="#F5A623"/>
<text transform="translate(20.6,378.1) rotate(-90)" font-size="5.9" fill="#111" text-anchor="middle">MSI</text>
<g>
<rect x="29.82" y="402.35" width="2.13" height="14.00" fill="#C4C4C4"/>
<rect x="32.19" y="402.35" width="2.13" height="14.00" fill="#C4C4C4"/>
<rect x="34.56" y="402.35" width="2.13" height="14.00" fill="#C4C4C4"/>
<rect x="36.93" y="402.35" width="18.71" height="14.00" fill="#F1FF45"/>
<path d="M39.18 402.35v14.00M41.55 402.35v14.00M43.91 402.35v14.00M46.28 402.35v14.00M48.65 402.35v14.00M51.02 402.35v14.00M53.39 402.35v14.00" stroke="#fff" stroke-opacity="0.8" stroke-width="0.42" fill="none"/>
<rect x="55.88" y="402.35" width="468.82" height="14.00" fill="#C8B730"/>
<path d="M58.13 402.35v14.00M60.50 402.35v14.00M62.87 402.35v14.00M65.23 402.35v14.00M67.60 402.35v14.00M69.97 402.35v14.00M72.34 402.35v14.00M74.71 402.35v14.00M77.08 402.35v14.00M79.45 402.35v14.00M81.82 402.35v14.00M84.19 402.35v14.00M86.56 402.35v14.00M88.93 402.35v14.00M91.29 402.35v14.00M93.66 402.35v14.00M96.03 402.35v14.00M98.40 402.35v14.00M100.77 402.35v14.00M103.14 402.35v14.00M105.51 402.35v14.00M107.88 402.35v14.00M110.25 402.35v14.00M112.62 402.35v14.00M114.98 402.35v14.00M117.35 402.35v14.00M119.72 402.35v14.00M122.09 402.35v14.00M124.46 402.35v14.00M126.83 402.35v14.00M129.20 402.35v14.00M131.57 402.35v14.00M133.94 402.35v14.00M136.31 402.35v14.00M138.67 402.35v14.00M141.04 402.35v14.00M143.41 402.35v14.00M145.78 402.35v14.00M148.15 402.35v14.00M150.52 402.35v14.00M152.89 402.35v14.00M155.26 402.35v14.00M157.63 402.35v14.00M160.00 402.35v14.00M162.36 402.35v14.00M164.73 402.35v14.00M167.10 402.35v14.00M169.47 402.35v14.00M171.84 402.35v14.00M174.21 402.35v14.00M176.58 402.35v14.00M178.95 402.35v14.00M181.32 402.35v14.00M183.69 402.35v14.00M186.05 402.35v14.00M188.42 402.35v14.00M190.79 402.35v14.00M193.16 402.35v14.00M195.53 402.35v14.00M197.90 402.35v14.00M200.27 402.35v14.00M202.64 402.35v14.00M205.01 402.35v14.00M207.38 402.35v14.00M209.74 402.35v14.00M212.11 402.35v14.00M214.48 402.35v14.00M216.85 402.35v14.00M219.22 402.35v14.00M221.59 402.35v14.00M223.96 402.35v14.00M226.33 402.35v14.00M228.70 402.35v14.00M231.06 402.35v14.00M233.43 402.35v14.00M235.80 402.35v14.00M238.17 402.35v14.00M240.54 402.35v14.00M242.91 402.35v14.00M245.28 402.35v14.00M247.65 402.35v14.00M250.02 402.35v14.00M252.39 402.35v14.00M254.75 402.35v14.00M257.12 402.35v14.00M259.49 402.35v14.00M261.86 402.35v14.00M264.23 402.35v14.00M266.60 402.35v14.00M268.97 402.35v14.00M271.34 402.35v14.00M273.71 402.35v14.00M276.08 402.35v14.00M278.45 402.35v14.00M280.81 402.35v14.00M283.18 402.35v14.00M285.55 402.35v14.00M287.92 402.35v14.00M290.29 402.35v14.00M292.66 402.35v14.00M295.03 402.35v14.00M297.40 402.35v14.00M299.77 402.35v14.00M302.13 402.35v14.00M304.50 402.35v14.00M306.87 402.35v14.00M309.24 402.35v14.00M311.61 402.35v14.00M313.98 402.35v14.00M316.35 402.35v14.00M318.72 402.35v14.00M321.09 402.35v14.00M323.46 402.35v14.00M325.82 402.35v14.00M328.19 402.35v14.00M330.56 402.35v14.00M332.93 402.35v14.00M335.30 402.35v14.00M337.67 402.35v14.00M340.04 402.35v14.00M342.41 402.35v14.00M344.78 402.35v14.00M347.15 402.35v14.00M349.52 402.35v14.00M351.88 402.35v14.00M354.25 402.35v14.00M356.62 402.35v14.00M358.99 402.35v14.00M361.36 402.35v14.00M363.73 402.35v14.00M366.10 402.35v14.00M368.47 402.35v14.00M370.84 402.35v14.00M373.21 402.35v14.00M375.57 402.35v14.00M377.94 402.35v14.00M380.31 402.35v14.00M382.68 402.35v14.00M385.05 402.35v14.00M387.42 402.35v14.00M389.79 402.35v14.00M392.16 402.35v14.00M394.53 402.35v14.00M396.90 402.35v14.00M399.26 402.35v14.00M401.63 402.35v14.00M404.00 402.35v14.00M406.37 402.35v14.00M408.74 402.35v14.00M411.11 402.35v14.00M413.48 402.35v14.00M415.85 402.35v14.00M418.22 402.35v14.00M420.59 402.35v14.00M422.95 402.35v14.00M425.32 402.35v14.00M427.69 402.35v14.00M430.06 402.35v14.00M432.43 402.35v14.00M434.80 402.35v14.00M437.17 402.35v14.00M439.54 402.35v14.00M441.91 402.35v14.00M444.28 402.35v14.00M446.64 402.35v14.00M449.01 402.35v14.00M451.38 402.35v14.00M453.75 402.35v14.00M456.12 402.35v14.00M458.49 402.35v14.00M460.86 402.35v14.00M463.23 402.35v14.00M465.60 402.35v14.00M467.97 402.35v14.00M470.33 402.35v14.00M472.70 402.35v14.00M475.07 402.35v14.00M477.44 402.35v14.00M479.81 402.35v14.00M482.18 402.35v14.00M484.55 402.35v14.00M486.92 402.35v14.00M489.29 402.35v14.00M491.66 402.35v14.00M494.02 402.35v14.00M496.39 402.35v14.00M498.76 402.35v14.00M501.13 402.35v14.00M503.50 402.35v14.00M505.87 402.35v14.00M508.24 402.35v14.00M510.61 402.35v14.00M512.98 402.35v14.00M515.35 402.35v14.00M517.71 402.35v14.00M520.08 402.35v14.00M522.45 402.35v14.00" stroke="#fff" stroke-opacity="0.8" stroke-width="0.42" fill="none"/>
<rect x="524.94" y="402.35" width="9.24" height="14.00" fill="#41688E"/>
<path d="M527.19 402.35v14.00M529.56 402.35v14.00M531.93 402.35v14.00" stroke="#fff" stroke-opacity="0.8" stroke-width="0.42" fill="none"/>
<rect x="534.42" y="402.35" width="2.13" height="14.00" fill="#EE7F72"/>
<rect x="614.10" y="402.35" width="0.68" height="14.00" fill="#C4C4C4"/>
<rect x="614.78" y="402.35" width="1.80" height="14.00" fill="#F1FF45"/>
<rect x="616.58" y="402.35" width="44.61" height="14.00" fill="#C8B730"/>
<rect x="661.19" y="402.35" width="0.90" height="14.00" fill="#41688E"/>
<rect x="662.09" y="402.35" width="0.23" height="14.00" fill="#EE7F72"/>
<rect x="29.82" y="417.31" width="2.13" height="14.00" fill="#41688E"/>
<rect x="32.19" y="417.31" width="2.13" height="14.00" fill="#95D9EB"/>
<rect x="36.93" y="417.31" width="2.13" height="14.00" fill="#95D9EB"/>
<rect x="39.30" y="417.31" width="2.13" height="14.00" fill="#95D9EB"/>
<rect x="55.88" y="417.31" width="13.97" height="14.00" fill="#41688E"/>
<path d="M58.13 417.31v14.00M60.50 417.31v14.00M62.87 417.31v14.00M65.23 417.31v14.00M67.60 417.31v14.00" stroke="#fff" stroke-opacity="0.8" stroke-width="0.42" fill="none"/>
<rect x="70.09" y="417.31" width="141.90" height="14.00" fill="#95D9EB"/>
<path d="M72.34 417.31v14.00M74.71 417.31v14.00M77.08 417.31v14.00M79.45 417.31v14.00M81.82 417.31v14.00M84.19 417.31v14.00M86.56 417.31v14.00M88.93 417.31v14.00M91.29 417.31v14.00M93.66 417.31v14.00M96.03 417.31v14.00M98.40 417.31v14.00M100.77 417.31v14.00M103.14 417.31v14.00M105.51 417.31v14.00M107.88 417.31v14.00M110.25 417.31v14.00M112.62 417.31v14.00M114.98 417.31v14.00M117.35 417.31v14.00M119.72 417.31v14.00M122.09 417.31v14.00M124.46 417.31v14.00M126.83 417.31v14.00M129.20 417.31v14.00M131.57 417.31v14.00M133.94 417.31v14.00M136.31 417.31v14.00M138.67 417.31v14.00M141.04 417.31v14.00M143.41 417.31v14.00M145.78 417.31v14.00M148.15 417.31v14.00M150.52 417.31v14.00M152.89 417.31v14.00M155.26 417.31v14.00M157.63 417.31v14.00M160.00 417.31v14.00M162.36 417.31v14.00M164.73 417.31v14.00M167.10 417.31v14.00M169.47 417.31v14.00M171.84 417.31v14.00M174.21 417.31v14.00M176.58 417.31v14.00M178.95 417.31v14.00M181.32 417.31v14.00M183.69 417.31v14.00M186.05 417.31v14.00M188.42 417.31v14.00M190.79 417.31v14.00M193.16 417.31v14.00M195.53 417.31v14.00M197.90 417.31v14.00M200.27 417.31v14.00M202.64 417.31v14.00M205.01 417.31v14.00M207.38 417.31v14.00M209.74 417.31v14.00" stroke="#fff" stroke-opacity="0.8" stroke-width="0.42" fill="none"/>
<rect x="524.94" y="417.31" width="2.13" height="14.00" fill="#95D9EB"/>
<rect x="527.31" y="417.31" width="2.13" height="14.00" fill="#95D9EB"/>
<rect x="536.79" y="417.31" width="2.13" height="14.00" fill="#1A1AFF"/>
<rect x="539.16" y="417.31" width="2.13" height="14.00" fill="#1A1AFF"/>
<rect x="541.52" y="417.31" width="2.13" height="14.00" fill="#41688E"/>
<rect x="543.89" y="417.31" width="2.13" height="14.00" fill="#41688E"/>
<rect x="546.26" y="417.31" width="23.45" height="14.00" fill="#95D9EB"/>
<path d="M548.51 417.31v14.00M550.88 417.31v14.00M553.25 417.31v14.00M555.62 417.31v14.00M557.99 417.31v14.00M560.36 417.31v14.00M562.73 417.31v14.00M565.09 417.31v14.00M567.46 417.31v14.00" stroke="#fff" stroke-opacity="0.8" stroke-width="0.42" fill="none"/>
<rect x="569.95" y="417.31" width="2.13" height="14.00" fill="#EE7F72"/>
<rect x="614.10" y="417.31" width="0.45" height="14.00" fill="#1A1AFF"/>
<rect x="614.55" y="417.31" width="2.03" height="14.00" fill="#41688E"/>
<rect x="616.58" y="417.31" width="16.90" height="14.00" fill="#95D9EB"/>
<rect x="633.48" y="417.31" width="0.23" height="14.00" fill="#EE7F72"/>
<rect x="32.19" y="432.27" width="2.13" height="14.00" fill="#95D9EB"/>
<rect x="36.93" y="432.27" width="2.13" height="14.00" fill="#95D9EB"/>
<rect x="39.30" y="432.27" width="2.13" height="14.00" fill="#95D9EB"/>
<rect x="70.09" y="432.27" width="132.42" height="14.00" fill="#95D9EB"/>
<path d="M72.34 432.27v14.00M74.71 432.27v14.00M77.08 432.27v14.00M79.45 432.27v14.00M81.82 432.27v14.00M84.19 432.27v14.00M86.56 432.27v14.00M88.93 432.27v14.00M91.29 432.27v14.00M93.66 432.27v14.00M96.03 432.27v14.00M98.40 432.27v14.00M100.77 432.27v14.00M103.14 432.27v14.00M105.51 432.27v14.00M107.88 432.27v14.00M110.25 432.27v14.00M112.62 432.27v14.00M114.98 432.27v14.00M117.35 432.27v14.00M119.72 432.27v14.00M122.09 432.27v14.00M124.46 432.27v14.00M126.83 432.27v14.00M129.20 432.27v14.00M131.57 432.27v14.00M133.94 432.27v14.00M136.31 432.27v14.00M138.67 432.27v14.00M141.04 432.27v14.00M143.41 432.27v14.00M145.78 432.27v14.00M148.15 432.27v14.00M150.52 432.27v14.00M152.89 432.27v14.00M155.26 432.27v14.00M157.63 432.27v14.00M160.00 432.27v14.00M162.36 432.27v14.00M164.73 432.27v14.00M167.10 432.27v14.00M169.47 432.27v14.00M171.84 432.27v14.00M174.21 432.27v14.00M176.58 432.27v14.00M178.95 432.27v14.00M181.32 432.27v14.00M183.69 432.27v14.00M186.05 432.27v14.00M188.42 432.27v14.00M190.79 432.27v14.00M193.16 432.27v14.00M195.53 432.27v14.00M197.90 432.27v14.00M200.27 432.27v14.00" stroke="#fff" stroke-opacity="0.8" stroke-width="0.42" fill="none"/>
<rect x="524.94" y="432.27" width="2.13" height="14.00" fill="#95D9EB"/>
<rect x="527.31" y="432.27" width="2.13" height="14.00" fill="#95D9EB"/>
<rect x="536.79" y="432.27" width="2.13" height="14.00" fill="#95D9EB"/>
<rect x="546.26" y="432.27" width="21.08" height="14.00" fill="#95D9EB"/>
<path d="M548.51 432.27v14.00M550.88 432.27v14.00M553.25 432.27v14.00M555.62 432.27v14.00M557.99 432.27v14.00M560.36 432.27v14.00M562.73 432.27v14.00M565.09 432.27v14.00" stroke="#fff" stroke-opacity="0.8" stroke-width="0.42" fill="none"/>
<rect x="614.10" y="432.27" width="16.00" height="14.00" fill="#95D9EB"/>
<rect x="29.82" y="447.23" width="2.13" height="14.00" fill="#41688E"/>
<rect x="36.93" y="447.23" width="2.13" height="14.00" fill="#41688E"/>
<rect x="55.88" y="447.23" width="2.13" height="14.00" fill="#41688E"/>
<rect x="58.25" y="447.23" width="2.13" height="14.00" fill="#EE7F72"/>
<rect x="70.09" y="447.23" width="35.30" height="14.00" fill="#41688E"/>
<path d="M72.34 447.23v14.00M74.71 447.23v14.00M77.08 447.23v14.00M79.45 447.23v14.00M81.82 447.23v14.00M84.19 447.23v14.00M86.56 447.23v14.00M88.93 447.23v14.00M91.29 447.23v14.00M93.66 447.23v14.00M96.03 447.23v14.00M98.40 447.23v14.00M100.77 447.23v14.00M103.14 447.23v14.00" stroke="#fff" stroke-opacity="0.8" stroke-width="0.42" fill="none"/>
<rect x="105.63" y="447.23" width="2.13" height="14.00" fill="#95D9EB"/>
<rect x="202.76" y="447.23" width="2.13" height="14.00" fill="#41688E"/>
<rect x="205.13" y="447.23" width="2.13" height="14.00" fill="#41688E"/>
<rect x="212.23" y="447.23" width="68.46" height="14.00" fill="#41688E"/>
<path d="M214.48 447.23v14.00M216.85 447.23v14.00M219.22 447.23v14.00M221.59 447.23v14.00M223.96 447.23v14.00M226.33 447.23v14.00M228.70 447.23v14.00M231.06 447.23v14.00M233.43 447.23v14.00M235.80 447.23v14.00M238.17 447.23v14.00M240.54 447.23v14.00M242.91 447.23v14.00M245.28 447.23v14.00M247.65 447.23v14.00M250.02 447.23v14.00M252.39 447.23v14.00M254.75 447.23v14.00M257.12 447.23v14.00M259.49 447.23v14.00M261.86 447.23v14.00M264.23 447.23v14.00M266.60 447.23v14.00M268.97 447.23v14.00M271.34 447.23v14.00M273.71 447.23v14.00M276.08 447.23v14.00M278.45 447.23v14.00" stroke="#fff" stroke-opacity="0.8" stroke-width="0.42" fill="none"/>
<rect x="280.93" y="447.23" width="2.13" height="14.00" fill="#95D9EB"/>
<rect x="283.30" y="447.23" width="2.13" height="14.00" fill="#EE7F72"/>
<rect x="285.67" y="447.23" width="2.13" height="14.00" fill="#EE7F72"/>
<rect x="524.94" y="447.23" width="2.13" height="14.00" fill="#41688E"/>
<rect x="534.42" y="447.23" width="2.13" height="14.00" fill="#41688E"/>
<rect x="614.10" y="447.23" width="11.49" height="14.00" fill="#41688E"/>
<rect x="625.59" y="447.23" width="0.45" height="14.00" fill="#95D9EB"/>
<rect x="626.04" y="447.23" width="0.68" height="14.00" fill="#EE7F72"/>
<rect x="34.56" y="462.19" width="2.13" height="14.00" fill="#41688E"/>
<rect x="39.30" y="462.19" width="2.13" height="14.00" fill="#EE7F72"/>
<rect x="41.66" y="462.19" width="2.13" height="14.00" fill="#EE7F72"/>
<rect x="60.62" y="462.19" width="2.13" height="14.00" fill="#EE7F72"/>
<rect x="62.99" y="462.19" width="2.13" height="14.00" fill="#EE7F72"/>
<rect x="105.63" y="462.19" width="2.13" height="14.00" fill="#95D9EB"/>
<rect x="108.00" y="462.19" width="9.24" height="14.00" fill="#41688E"/>
<path d="M110.25 462.19v14.00M112.62 462.19v14.00M114.98 462.19v14.00" stroke="#fff" stroke-opacity="0.8" stroke-width="0.42" fill="none"/>
<rect x="117.47" y="462.19" width="2.13" height="14.00" fill="#EE7F72"/>
<rect x="119.84" y="462.19" width="2.13" height="14.00" fill="#EE7F72"/>
<rect x="212.23" y="462.19" width="2.13" height="14.00" fill="#EE7F72"/>
<rect x="288.04" y="462.19" width="2.13" height="14.00" fill="#C4C4C4"/>
<rect x="290.41" y="462.19" width="11.61" height="14.00" fill="#41688E"/>
<path d="M292.66 462.19v14.00M295.03 462.19v14.00M297.40 462.19v14.00M299.77 462.19v14.00" stroke="#fff" stroke-opacity="0.8" stroke-width="0.42" fill="none"/>
<rect x="302.25" y="462.19" width="2.13" height="14.00" fill="#95D9EB"/>
<rect x="304.62" y="462.19" width="2.13" height="14.00" fill="#95D9EB"/>
<rect x="306.99" y="462.19" width="23.45" height="14.00" fill="#EE7F72"/>
<path d="M309.24 462.19v14.00M311.61 462.19v14.00M313.98 462.19v14.00M316.35 462.19v14.00M318.72 462.19v14.00M321.09 462.19v14.00M323.46 462.19v14.00M325.82 462.19v14.00M328.19 462.19v14.00" stroke="#fff" stroke-opacity="0.8" stroke-width="0.42" fill="none"/>
<rect x="536.79" y="462.19" width="2.13" height="14.00" fill="#EE7F72"/>
<rect x="539.16" y="462.19" width="2.13" height="14.00" fill="#C8B730"/>
<rect x="541.52" y="462.19" width="2.13" height="14.00" fill="#EE7F72"/>
<rect x="546.26" y="462.19" width="2.13" height="14.00" fill="#41688E"/>
<rect x="548.63" y="462.19" width="9.24" height="14.00" fill="#EE7F72"/>
<path d="M550.88 462.19v14.00M553.25 462.19v14.00M555.62 462.19v14.00" stroke="#fff" stroke-opacity="0.8" stroke-width="0.42" fill="none"/>
<rect x="569.95" y="462.19" width="2.13" height="14.00" fill="#EE7F72"/>
<rect x="572.32" y="462.19" width="2.13" height="14.00" fill="#C4C4C4"/>
<rect x="574.69" y="462.19" width="11.61" height="14.00" fill="#41688E"/>
<path d="M576.94 462.19v14.00M579.31 462.19v14.00M581.68 462.19v14.00M584.05 462.19v14.00" stroke="#fff" stroke-opacity="0.8" stroke-width="0.42" fill="none"/>
<rect x="586.54" y="462.19" width="9.24" height="14.00" fill="#EE7F72"/>
<path d="M588.78 462.19v14.00M591.15 462.19v14.00M593.52 462.19v14.00" stroke="#fff" stroke-opacity="0.8" stroke-width="0.42" fill="none"/>
<rect x="614.10" y="462.19" width="0.45" height="14.00" fill="#C4C4C4"/>
<rect x="614.55" y="462.19" width="0.23" height="14.00" fill="#C8B730"/>
<rect x="614.78" y="462.19" width="3.60" height="14.00" fill="#41688E"/>
<rect x="618.38" y="462.19" width="0.68" height="14.00" fill="#95D9EB"/>
<rect x="619.06" y="462.19" width="6.31" height="14.00" fill="#EE7F72"/>
<rect x="534.42" y="477.15" width="2.13" height="14.00" fill="#C8B730"/>
<rect x="536.79" y="477.15" width="2.13" height="14.00" fill="#C8B730"/>
<rect x="539.16" y="477.15" width="2.13" height="14.00" fill="#C8B730"/>
<rect x="543.89" y="477.15" width="13.97" height="14.00" fill="#C8B730"/>
<path d="M546.14 477.15v14.00M548.51 477.15v14.00M550.88 477.15v14.00M553.25 477.15v14.00M555.62 477.15v14.00" stroke="#fff" stroke-opacity="0.8" stroke-width="0.42" fill="none"/>
<rect x="567.58" y="477.15" width="2.13" height="14.00" fill="#C8B730"/>
<rect x="569.95" y="477.15" width="2.13" height="14.00" fill="#41688E"/>
<rect x="572.32" y="477.15" width="11.61" height="14.00" fill="#C8B730"/>
<path d="M574.57 477.15v14.00M576.94 477.15v14.00M579.31 477.15v14.00M581.68 477.15v14.00" stroke="#fff" stroke-opacity="0.8" stroke-width="0.42" fill="none"/>
<rect x="586.54" y="477.15" width="2.13" height="14.00" fill="#C8B730"/>
<rect x="588.90" y="477.15" width="2.13" height="14.00" fill="#C8B730"/>
<rect x="591.27" y="477.15" width="2.13" height="14.00" fill="#C8B730"/>
<rect x="596.01" y="477.15" width="2.13" height="14.00" fill="#C8B730"/>
<rect x="614.10" y="477.15" width="4.28" height="14.00" fill="#C8B730"/>
<rect x="618.38" y="477.15" width="0.23" height="14.00" fill="#41688E"/>
<rect x="41.66" y="492.11" width="2.13" height="14.00" fill="#FF2DAA"/>
<rect x="60.62" y="492.11" width="2.13" height="14.00" fill="#EE7F72"/>
<rect x="70.09" y="492.11" width="2.13" height="14.00" fill="#FF2DAA"/>
<rect x="108.00" y="492.11" width="2.13" height="14.00" fill="#EE7F72"/>
<rect x="290.41" y="492.11" width="2.13" height="14.00" fill="#FF2DAA"/>
<rect x="306.99" y="492.11" width="2.13" height="14.00" fill="#EE7F72"/>
<rect x="330.68" y="492.11" width="2.13" height="14.00" fill="#EE7F72"/>
<rect x="536.79" y="492.11" width="2.13" height="14.00" fill="#EE7F72"/>
<rect x="539.16" y="492.11" width="2.13" height="14.00" fill="#EE7F72"/>
<rect x="543.89" y="492.11" width="2.13" height="14.00" fill="#EE7F72"/>
<rect x="548.63" y="492.11" width="2.13" height="14.00" fill="#EE7F72"/>
<rect x="551.00" y="492.11" width="2.13" height="14.00" fill="#EE7F72"/>
<rect x="558.11" y="492.11" width="2.13" height="14.00" fill="#FF2222"/>
<rect x="574.69" y="492.11" width="2.13" height="14.00" fill="#EE7F72"/>
<rect x="584.17" y="492.11" width="2.13" height="14.00" fill="#EE7F72"/>
<rect x="586.54" y="492.11" width="2.13" height="14.00" fill="#FF2DAA"/>
<rect x="588.90" y="492.11" width="2.13" height="14.00" fill="#EE7F72"/>
<rect x="593.64" y="492.11" width="2.13" height="14.00" fill="#EE7F72"/>
<rect x="614.10" y="492.11" width="0.23" height="14.00" fill="#FF2222"/>
<rect x="614.33" y="492.11" width="0.90" height="14.00" fill="#FF2DAA"/>
<rect x="615.23" y="492.11" width="2.93" height="14.00" fill="#EE7F72"/>
<rect x="41.66" y="507.07" width="2.13" height="14.00" fill="#FF2DAA"/>
<rect x="44.03" y="507.07" width="2.13" height="14.00" fill="#FF2DAA"/>
<rect x="110.37" y="507.07" width="2.13" height="14.00" fill="#FF2DAA"/>
<rect x="122.21" y="507.07" width="2.13" height="14.00" fill="#FF2DAA"/>
<rect x="124.58" y="507.07" width="2.13" height="14.00" fill="#FF2DAA"/>
<rect x="214.60" y="507.07" width="2.13" height="14.00" fill="#FF2DAA"/>
<rect x="290.41" y="507.07" width="2.13" height="14.00" fill="#FF2DAA"/>
<rect x="292.78" y="507.07" width="2.13" height="14.00" fill="#FF2DAA"/>
<rect x="309.36" y="507.07" width="2.13" height="14.00" fill="#FF2DAA"/>
<rect x="311.73" y="507.07" width="2.13" height="14.00" fill="#FF2DAA"/>
<rect x="333.05" y="507.07" width="16.34" height="14.00" fill="#FF2DAA"/>
<path d="M335.30 507.07v14.00M337.67 507.07v14.00M340.04 507.07v14.00M342.41 507.07v14.00M344.78 507.07v14.00M347.15 507.07v14.00" stroke="#fff" stroke-opacity="0.8" stroke-width="0.42" fill="none"/>
<rect x="541.52" y="507.07" width="2.13" height="14.00" fill="#FF2DAA"/>
<rect x="614.10" y="507.07" width="4.06" height="14.00" fill="#FF2DAA"/>
<rect x="72.46" y="522.03" width="2.13" height="14.00" fill="#EE7F72"/>
<rect x="126.95" y="522.03" width="2.13" height="14.00" fill="#EE7F72"/>
<rect x="216.97" y="522.03" width="2.13" height="14.00" fill="#EE7F72"/>
<rect x="219.34" y="522.03" width="2.13" height="14.00" fill="#EE7F72"/>
<rect x="302.25" y="522.03" width="2.13" height="14.00" fill="#EE7F72"/>
<rect x="314.10" y="522.03" width="2.13" height="14.00" fill="#EE7F72"/>
<rect x="349.64" y="522.03" width="18.71" height="14.00" fill="#EE7F72"/>
<path d="M351.88 522.03v14.00M354.25 522.03v14.00M356.62 522.03v14.00M358.99 522.03v14.00M361.36 522.03v14.00M363.73 522.03v14.00M366.10 522.03v14.00" stroke="#fff" stroke-opacity="0.8" stroke-width="0.42" fill="none"/>
<rect x="539.16" y="522.03" width="2.13" height="14.00" fill="#FF2DAA"/>
<rect x="560.48" y="522.03" width="2.13" height="14.00" fill="#EE7F72"/>
<rect x="591.27" y="522.03" width="2.13" height="14.00" fill="#EE7F72"/>
<rect x="614.10" y="522.03" width="0.23" height="14.00" fill="#FF2DAA"/>
<rect x="614.33" y="522.03" width="3.60" height="14.00" fill="#EE7F72"/>
<rect x="126.95" y="536.99" width="2.13" height="14.00" fill="#EE7F72"/>
<rect x="129.32" y="536.99" width="2.13" height="14.00" fill="#41688E"/>
<rect x="131.69" y="536.99" width="2.13" height="14.00" fill="#41688E"/>
<rect x="134.06" y="536.99" width="2.13" height="14.00" fill="#EE7F72"/>
<rect x="136.43" y="536.99" width="2.13" height="14.00" fill="#EE7F72"/>
<rect x="138.79" y="536.99" width="2.13" height="14.00" fill="#EE7F72"/>
<rect x="368.59" y="536.99" width="2.13" height="14.00" fill="#41688E"/>
<rect x="370.96" y="536.99" width="2.13" height="14.00" fill="#95D9EB"/>
<rect x="373.33" y="536.99" width="2.13" height="14.00" fill="#EE7F72"/>
<rect x="527.31" y="536.99" width="2.13" height="14.00" fill="#41688E"/>
<rect x="548.63" y="536.99" width="2.13" height="14.00" fill="#95D9EB"/>
<rect x="553.37" y="536.99" width="2.13" height="14.00" fill="#95D9EB"/>
<rect x="560.48" y="536.99" width="2.13" height="14.00" fill="#EE7F72"/>
<rect x="577.06" y="536.99" width="2.13" height="14.00" fill="#C8B730"/>
<rect x="586.54" y="536.99" width="2.13" height="14.00" fill="#41688E"/>
<rect x="614.10" y="536.99" width="0.23" height="14.00" fill="#C8B730"/>
<rect x="614.33" y="536.99" width="1.13" height="14.00" fill="#41688E"/>
<rect x="615.45" y="536.99" width="0.68" height="14.00" fill="#95D9EB"/>
<rect x="616.13" y="536.99" width="1.35" height="14.00" fill="#EE7F72"/>
<rect x="29.82" y="551.95" width="2.13" height="14.00" fill="#41688E"/>
<rect x="74.83" y="551.95" width="2.13" height="14.00" fill="#41688E"/>
<rect x="288.04" y="551.95" width="2.13" height="14.00" fill="#41688E"/>
<rect x="316.47" y="551.95" width="2.13" height="14.00" fill="#41688E"/>
<rect x="330.68" y="551.95" width="2.13" height="14.00" fill="#41688E"/>
<rect x="333.05" y="551.95" width="2.13" height="14.00" fill="#41688E"/>
<rect x="375.69" y="551.95" width="9.24" height="14.00" fill="#41688E"/>
<path d="M377.94 551.95v14.00M380.31 551.95v14.00M382.68 551.95v14.00" stroke="#fff" stroke-opacity="0.8" stroke-width="0.42" fill="none"/>
<rect x="529.68" y="551.95" width="2.13" height="14.00" fill="#41688E"/>
<rect x="543.89" y="551.95" width="2.13" height="14.00" fill="#41688E"/>
<rect x="598.38" y="551.95" width="2.13" height="14.00" fill="#41688E"/>
<rect x="614.10" y="551.95" width="2.93" height="14.00" fill="#41688E"/>
<rect x="333.05" y="566.91" width="2.13" height="14.00" fill="#FF2DAA"/>
<rect x="541.52" y="566.91" width="2.13" height="14.00" fill="#C8B730"/>
<rect x="558.11" y="566.91" width="2.13" height="14.00" fill="#C8B730"/>
<rect x="560.48" y="566.91" width="2.13" height="14.00" fill="#C8B730"/>
<rect x="562.85" y="566.91" width="2.13" height="14.00" fill="#C4C4C4"/>
<rect x="565.21" y="566.91" width="2.13" height="14.00" fill="#C8B730"/>
<rect x="584.17" y="566.91" width="2.13" height="14.00" fill="#C8B730"/>
<rect x="593.64" y="566.91" width="2.13" height="14.00" fill="#C8B730"/>
<rect x="598.38" y="566.91" width="11.61" height="14.00" fill="#C8B730"/>
<path d="M600.63 566.91v14.00M603.00 566.91v14.00M605.37 566.91v14.00M607.74 566.91v14.00" stroke="#fff" stroke-opacity="0.8" stroke-width="0.42" fill="none"/>
<rect x="614.10" y="566.91" width="0.23" height="14.00" fill="#C4C4C4"/>
<rect x="614.33" y="566.91" width="2.48" height="14.00" fill="#C8B730"/>
<rect x="616.80" y="566.91" width="0.23" height="14.00" fill="#FF2DAA"/>
<rect x="46.40" y="581.87" width="2.13" height="14.00" fill="#FF2DAA"/>
<rect x="77.20" y="581.87" width="2.13" height="14.00" fill="#FF2DAA"/>
<rect x="141.16" y="581.87" width="2.13" height="14.00" fill="#FF2DAA"/>
<rect x="143.53" y="581.87" width="2.13" height="14.00" fill="#FF2DAA"/>
<rect x="290.41" y="581.87" width="2.13" height="14.00" fill="#FF2DAA"/>
<rect x="318.84" y="581.87" width="2.13" height="14.00" fill="#FF2DAA"/>
<rect x="330.68" y="581.87" width="2.13" height="14.00" fill="#FF2DAA"/>
<rect x="333.05" y="581.87" width="2.13" height="14.00" fill="#FF2DAA"/>
<rect x="335.42" y="581.87" width="2.13" height="14.00" fill="#FF2DAA"/>
<rect x="385.17" y="581.87" width="2.13" height="14.00" fill="#FF2DAA"/>
<rect x="387.54" y="581.87" width="2.13" height="14.00" fill="#FF2DAA"/>
<rect x="389.91" y="581.87" width="2.13" height="14.00" fill="#FF2DAA"/>
<rect x="614.10" y="581.87" width="2.70" height="14.00" fill="#FF2DAA"/>
<rect x="32.19" y="596.83" width="2.13" height="14.00" fill="#41688E"/>
<rect x="77.20" y="596.83" width="2.13" height="14.00" fill="#41688E"/>
<rect x="145.90" y="596.83" width="2.13" height="14.00" fill="#41688E"/>
<rect x="202.76" y="596.83" width="2.13" height="14.00" fill="#41688E"/>
<rect x="385.17" y="596.83" width="2.13" height="14.00" fill="#41688E"/>
<rect x="392.28" y="596.83" width="2.13" height="14.00" fill="#41688E"/>
<rect x="527.31" y="596.83" width="2.13" height="14.00" fill="#41688E"/>
<rect x="560.48" y="596.83" width="2.13" height="14.00" fill="#41688E"/>
<rect x="565.21" y="596.83" width="2.13" height="14.00" fill="#41688E"/>
<rect x="600.75" y="596.83" width="2.13" height="14.00" fill="#41688E"/>
<rect x="603.12" y="596.83" width="2.13" height="14.00" fill="#41688E"/>
<rect x="614.10" y="596.83" width="2.48" height="14.00" fill="#41688E"/>
<rect x="212.23" y="611.79" width="2.13" height="14.00" fill="#41688E"/>
<rect x="221.71" y="611.79" width="2.13" height="14.00" fill="#41688E"/>
<rect x="280.93" y="611.79" width="2.13" height="14.00" fill="#95D9EB"/>
<rect x="309.36" y="611.79" width="2.13" height="14.00" fill="#41688E"/>
<rect x="321.21" y="611.79" width="2.13" height="14.00" fill="#41688E"/>
<rect x="323.58" y="611.79" width="2.13" height="14.00" fill="#41688E"/>
<rect x="375.69" y="611.79" width="2.13" height="14.00" fill="#41688E"/>
<rect x="394.65" y="611.79" width="9.24" height="14.00" fill="#41688E"/>
<path d="M396.90 611.79v14.00M399.26 611.79v14.00M401.63 611.79v14.00" stroke="#fff" stroke-opacity="0.8" stroke-width="0.42" fill="none"/>
<rect x="614.10" y="611.79" width="2.25" height="14.00" fill="#41688E"/>
<rect x="616.35" y="611.79" width="0.23" height="14.00" fill="#95D9EB"/>
<rect x="79.57" y="626.75" width="2.13" height="14.00" fill="#FF2DAA"/>
<rect x="224.08" y="626.75" width="2.13" height="14.00" fill="#FF2DAA"/>
<rect x="318.84" y="626.75" width="2.13" height="14.00" fill="#FF2DAA"/>
<rect x="330.68" y="626.75" width="2.13" height="14.00" fill="#FF2DAA"/>
<rect x="333.05" y="626.75" width="2.13" height="14.00" fill="#FF2DAA"/>
<rect x="335.42" y="626.75" width="2.13" height="14.00" fill="#FF2DAA"/>
<rect x="349.64" y="626.75" width="2.13" height="14.00" fill="#FF2DAA"/>
<rect x="352.00" y="626.75" width="2.13" height="14.00" fill="#FF2DAA"/>
<rect x="387.54" y="626.75" width="2.13" height="14.00" fill="#FF2DAA"/>
<rect x="534.42" y="626.75" width="2.13" height="14.00" fill="#FF2DAA"/>
<rect x="614.10" y="626.75" width="2.25" height="14.00" fill="#FF2DAA"/>
<rect x="62.99" y="641.71" width="2.13" height="14.00" fill="#41688E"/>
<rect x="122.21" y="641.71" width="2.13" height="14.00" fill="#41688E"/>
<rect x="148.27" y="641.71" width="2.13" height="14.00" fill="#95D9EB"/>
<rect x="330.68" y="641.71" width="2.13" height="14.00" fill="#41688E"/>
<rect x="392.28" y="641.71" width="2.13" height="14.00" fill="#41688E"/>
<rect x="551.00" y="641.71" width="2.13" height="14.00" fill="#EE7F72"/>
<rect x="562.85" y="641.71" width="2.13" height="14.00" fill="#41688E"/>
<rect x="565.21" y="641.71" width="2.13" height="14.00" fill="#41688E"/>
<rect x="588.90" y="641.71" width="2.13" height="14.00" fill="#41688E"/>
<rect x="591.27" y="641.71" width="2.13" height="14.00" fill="#41688E"/>
<rect x="614.10" y="641.71" width="1.80" height="14.00" fill="#41688E"/>
<rect x="615.90" y="641.71" width="0.23" height="14.00" fill="#95D9EB"/>
<rect x="616.13" y="641.71" width="0.23" height="14.00" fill="#EE7F72"/>
<rect x="81.94" y="656.67" width="2.13" height="14.00" fill="#41688E"/>
<rect x="150.64" y="656.67" width="2.13" height="14.00" fill="#EE7F72"/>
<rect x="295.15" y="656.67" width="2.13" height="14.00" fill="#EE7F72"/>
<rect x="330.68" y="656.67" width="2.13" height="14.00" fill="#EE7F72"/>
<rect x="378.06" y="656.67" width="2.13" height="14.00" fill="#EE7F72"/>
<rect x="404.12" y="656.67" width="2.13" height="14.00" fill="#EE7F72"/>
<rect x="539.16" y="656.67" width="2.13" height="14.00" fill="#EE7F72"/>
<rect x="591.27" y="656.67" width="2.13" height="14.00" fill="#41688E"/>
<rect x="614.10" y="656.67" width="0.45" height="14.00" fill="#41688E"/>
<rect x="614.55" y="656.67" width="1.35" height="14.00" fill="#EE7F72"/>
<rect x="224.08" y="671.63" width="2.13" height="14.00" fill="#FF2DAA"/>
<rect x="318.84" y="671.63" width="2.13" height="14.00" fill="#FF2DAA"/>
<rect x="330.68" y="671.63" width="2.13" height="14.00" fill="#FF2DAA"/>
<rect x="333.05" y="671.63" width="2.13" height="14.00" fill="#FF2DAA"/>
<rect x="335.42" y="671.63" width="2.13" height="14.00" fill="#FF2DAA"/>
<rect x="349.64" y="671.63" width="2.13" height="14.00" fill="#FF2DAA"/>
<rect x="387.54" y="671.63" width="2.13" height="14.00" fill="#FF2DAA"/>
<rect x="534.42" y="671.63" width="2.13" height="14.00" fill="#FF2DAA"/>
<rect x="614.10" y="671.63" width="1.80" height="14.00" fill="#FF2DAA"/>
<rect x="153.01" y="686.59" width="2.13" height="14.00" fill="#FF2DAA"/>
<rect x="318.84" y="686.59" width="2.13" height="14.00" fill="#FF2DAA"/>
<rect x="330.68" y="686.59" width="2.13" height="14.00" fill="#FF2DAA"/>
<rect x="335.42" y="686.59" width="2.13" height="14.00" fill="#FF2DAA"/>
<rect x="337.79" y="686.59" width="2.13" height="14.00" fill="#FF2DAA"/>
<rect x="354.37" y="686.59" width="2.13" height="14.00" fill="#FF2DAA"/>
<rect x="387.54" y="686.59" width="2.13" height="14.00" fill="#FF2DAA"/>
<rect x="406.49" y="686.59" width="2.13" height="14.00" fill="#FF2DAA"/>
<rect x="614.10" y="686.59" width="1.80" height="14.00" fill="#FF2DAA"/>
<rect x="134.06" y="701.55" width="2.13" height="14.00" fill="#EE7F72"/>
<rect x="148.27" y="701.55" width="2.13" height="14.00" fill="#41688E"/>
<rect x="202.76" y="701.55" width="2.13" height="14.00" fill="#41688E"/>
<rect x="226.45" y="701.55" width="2.13" height="14.00" fill="#41688E"/>
<rect x="408.86" y="701.55" width="2.13" height="14.00" fill="#41688E"/>
<rect x="543.89" y="701.55" width="2.13" height="14.00" fill="#41688E"/>
<rect x="596.01" y="701.55" width="2.13" height="14.00" fill="#EE7F72"/>
<rect x="614.10" y="701.55" width="1.13" height="14.00" fill="#41688E"/>
<rect x="615.23" y="701.55" width="0.45" height="14.00" fill="#EE7F72"/>
<rect x="148.27" y="716.51" width="2.13" height="14.00" fill="#95D9EB"/>
<rect x="228.82" y="716.51" width="2.13" height="14.00" fill="#41688E"/>
<rect x="411.23" y="716.51" width="2.13" height="14.00" fill="#41688E"/>
<rect x="413.60" y="716.51" width="2.13" height="14.00" fill="#41688E"/>
<rect x="574.69" y="716.51" width="2.13" height="14.00" fill="#41688E"/>
<rect x="588.90" y="716.51" width="2.13" height="14.00" fill="#41688E"/>
<rect x="591.27" y="716.51" width="2.13" height="14.00" fill="#41688E"/>
<rect x="614.10" y="716.51" width="1.35" height="14.00" fill="#41688E"/>
<rect x="615.45" y="716.51" width="0.23" height="14.00" fill="#95D9EB"/>
<rect x="122.21" y="731.47" width="2.13" height="14.00" fill="#FF2DAA"/>
<rect x="309.36" y="731.47" width="2.13" height="14.00" fill="#FF2DAA"/>
<rect x="335.42" y="731.47" width="2.13" height="14.00" fill="#FF2DAA"/>
<rect x="337.79" y="731.47" width="2.13" height="14.00" fill="#FF2DAA"/>
<rect x="340.16" y="731.47" width="2.13" height="14.00" fill="#FF2DAA"/>
<rect x="387.54" y="731.47" width="2.13" height="14.00" fill="#FF2DAA"/>
<rect x="614.10" y="731.47" width="1.35" height="14.00" fill="#FF2DAA"/>
<rect x="84.31" y="746.43" width="2.13" height="14.00" fill="#41688E"/>
<rect x="86.68" y="746.43" width="2.13" height="14.00" fill="#41688E"/>
<rect x="89.05" y="746.43" width="2.13" height="14.00" fill="#41688E"/>
<rect x="155.38" y="746.43" width="2.13" height="14.00" fill="#41688E"/>
<rect x="288.04" y="746.43" width="2.13" height="14.00" fill="#41688E"/>
<rect x="415.97" y="746.43" width="2.13" height="14.00" fill="#41688E"/>
<rect x="614.10" y="746.43" width="1.35" height="14.00" fill="#41688E"/>
<rect x="311.73" y="761.39" width="2.13" height="14.00" fill="#FF2DAA"/>
<rect x="333.05" y="761.39" width="2.13" height="14.00" fill="#FF2DAA"/>
<rect x="335.42" y="761.39" width="2.13" height="14.00" fill="#FF2DAA"/>
<rect x="349.64" y="761.39" width="2.13" height="14.00" fill="#FF2DAA"/>
<rect x="352.00" y="761.39" width="2.13" height="14.00" fill="#FF2DAA"/>
<rect x="614.10" y="761.39" width="1.13" height="14.00" fill="#FF2DAA"/>
</g>
<rect x="29.7" y="400.6" width="580.5" height="376.4" fill="none" stroke="#ABABAB" stroke-width="1.1"/>
<rect x="613.5" y="400.6" width="58.1" height="376.4" fill="none" stroke="#8A8A8A" stroke-width="0.9"/>
<g font-size="5.9" font-style="italic" fill="#111" text-anchor="end">
<text x="28.2" y="411.45">FGFR2</text>
<text x="28.2" y="426.41">CDKN2A</text>
<text x="28.2" y="441.37">CDKN2B</text>
<text x="28.2" y="456.33">BAP1</text>
<text x="28.2" y="471.29">TP53</text>
<text x="28.2" y="486.25">FGFR3</text>
<text x="28.2" y="501.21">KRAS</text>
<text x="28.2" y="516.17">MYC</text>
<text x="28.2" y="531.13">PIK3CA</text>
<text x="28.2" y="546.09">PTEN</text>
<text x="28.2" y="561.05">ARID1A</text>
<text x="28.2" y="576.01">FGFR1</text>
<text x="28.2" y="590.97">MCL1</text>
<text x="28.2" y="605.93">ATM</text>
<text x="28.2" y="620.89">PBRM1</text>
<text x="28.2" y="635.85">PIK3C2B</text>
<text x="28.2" y="650.81">SMAD4</text>
<text x="28.2" y="665.77">DNMT3A</text>
<text x="28.2" y="680.73">MDM4</text>
<text x="28.2" y="695.69">NTRK1</text>
<text x="28.2" y="710.65">BRCA2</text>
<text x="28.2" y="725.61">STK11</text>
<text x="28.2" y="740.57">LYN</text>
<text x="28.2" y="755.53">NF2</text>
<text x="28.2" y="770.49">AKT3</text>
</g>
<g stroke="#555" stroke-width="0.4">
<path d="M28.4 409.35H29.4"/>
<path d="M28.4 424.31H29.4"/>
<path d="M28.4 439.27H29.4"/>
<path d="M28.4 454.23H29.4"/>
<path d="M28.4 469.19H29.4"/>
<path d="M28.4 484.15H29.4"/>
<path d="M28.4 499.11H29.4"/>
<path d="M28.4 514.07H29.4"/>
<path d="M28.4 529.03H29.4"/>
<path d="M28.4 543.99H29.4"/>
<path d="M28.4 558.95H29.4"/>
<path d="M28.4 573.91H29.4"/>
<path d="M28.4 588.87H29.4"/>
<path d="M28.4 603.83H29.4"/>
<path d="M28.4 618.79H29.4"/>
<path d="M28.4 633.75H29.4"/>
<path d="M28.4 648.71H29.4"/>
<path d="M28.4 663.67H29.4"/>
<path d="M28.4 678.63H29.4"/>
<path d="M28.4 693.59H29.4"/>
<path d="M28.4 708.55H29.4"/>
<path d="M28.4 723.51H29.4"/>
<path d="M28.4 738.47H29.4"/>
<path d="M28.4 753.43H29.4"/>
<path d="M28.4 768.39H29.4"/>
</g>
<text x="283.9" y="783.9" font-size="5.95" fill="#111">Number of Specimens: 245</text>
<g font-size="5.8" fill="#111" text-anchor="middle">
<text x="614.10" y="783.0">0.00</text>
<text x="627.90" y="783.0">0.25</text>
<text x="641.70" y="783.0">0.50</text>
<text x="655.50" y="783.0">0.75</text>
<text x="669.30" y="783.0">1.00</text>
</g>
<g font-size="6" fill="#111" text-anchor="middle">
<text transform="translate(679.2,588.8) rotate(90)">Alteration</text>
<text transform="translate(673.2,588.8) rotate(90)">Frequency</text>
</g>
<g font-size="5.9" fill="#111">
<text x="124.6" y="797.6">Variant Type</text>
<rect x="161" y="795.8" width="5" height="5.2" fill="#EE7F72"/>
<text x="169" y="800.2">Point Mutation/Indel</text>
<rect x="225" y="789.8" width="5" height="5.5" fill="#FF2DAA"/>
<rect x="225" y="795.3" width="5" height="5.5" fill="#95D9EB"/>
<text x="233" y="794.2">Amplification</text>
<text x="233" y="800">Deletion</text>
<rect x="270.1" y="789.8" width="5" height="5.5" fill="#41688E"/>
<rect x="270.1" y="795.3" width="5" height="5.5" fill="#C8B730"/>
<text x="278.3" y="794.2">Truncation</text>
<text x="278.3" y="800">Fusion/Rearrangement</text>
<rect x="342.4" y="789.8" width="5" height="5.5" fill="#FF2222"/>
<rect x="342.4" y="795.3" width="5" height="5.5" fill="#1A1AFF"/>
<text x="350.6" y="794.2">Amp &amp; Point Mutation/Indel</text>
<text x="350.6" y="800">Del &amp; Truncation</text>
<rect x="425.8" y="789.8" width="5.2" height="5.5" fill="#F1FF45"/>
<rect x="425.8" y="795.3" width="5.2" height="5.5" fill="#BDBDBD"/>
<text x="434.1" y="794.2">Amp &amp; Fusion/Rearrangement</text>
<text x="434.1" y="800">Other Multiple</text>
</g>
</svg>
</body></html>
